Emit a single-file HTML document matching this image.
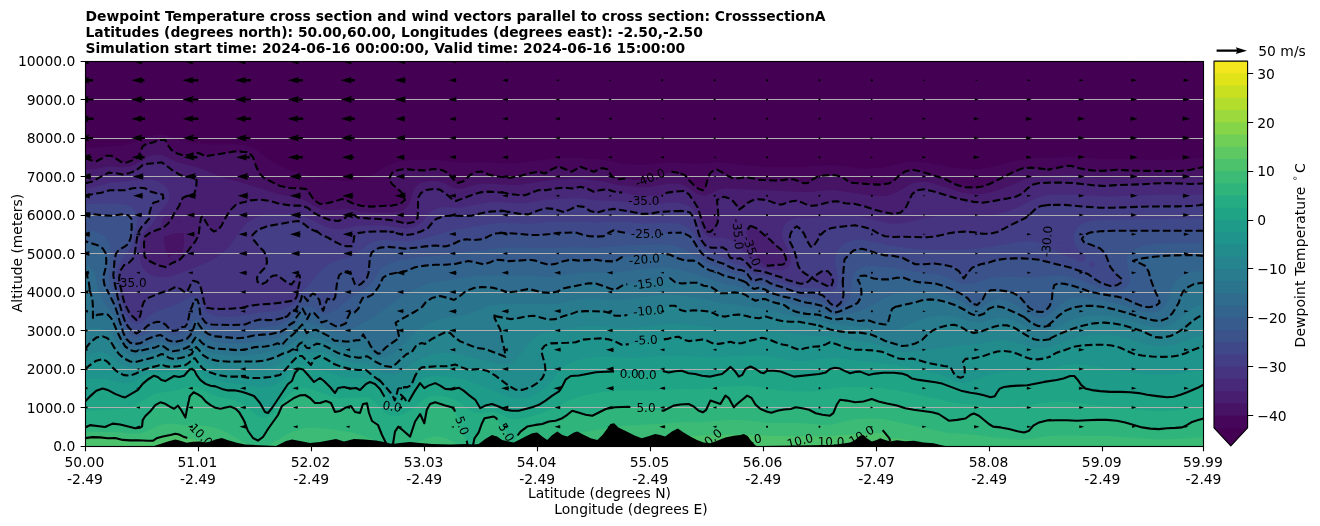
<!DOCTYPE html>
<html><head><meta charset="utf-8"><title>Dewpoint Temperature cross section</title>
<style>html,body{margin:0;padding:0;background:#fff;overflow:hidden}svg{display:block}text{font-family:"DejaVu Sans","Liberation Sans",sans-serif;font-size:13.889px;fill:#000}.b{font-weight:bold}.c{font-size:12px}</style></head><body>
<svg width="1320" height="526" viewBox="0 0 1320 526">
<rect width="1320" height="526" fill="#fff"/>
<defs><clipPath id="ax"><rect x="85.5" y="61.5" width="1118.0" height="385.0"/></clipPath></defs>
<g clip-path="url(#ax)">
<g shape-rendering="auto">
<rect x="85.0" y="61.0" width="1119.5" height="386.0" fill="#440154"/>
<path d="M155.2 135l5.8 -0.4l5 0.6l14 5.6l10 2.1l20.1 1.7l26 -0.4l11 1.6l5 1.7l4 2.3l13 9.9l6 3.9l11 5.2l10 3.2l25 6.5l9 1.6l10 0.6l13 -0.4l10 -1.8l9 -3.5l14 -8.7l6 -2.8l9 -2.4l12 -1l24.1 -0.1l23 2.9l21 -0.7l27 1.3l14 -0.9l35 -4.3l24 0l23 1.4l19 4l12 1.3l10.1 -0.2l27 -2.2l25 1.6l20 -2.2l23 3l26 2l35 0.3l21 -1.9l9 -0.2l8 0.6l18 2.5l11.1 0.5l14 -1l22 -5.2l11 -1l13 1.4l31 5.7l12 0.9l7 -0.3l8 -1.1l31 -8l15 -1.8l37 -1.5l31.1 2.2l57 0.6l20 -0.3l26 -1.4l0 288l-1118.5 0l0 -298.1l10 -0.2l29 -2.3l7 -2l13 -5.7z" fill="#46075a" fill-rule="evenodd"/>
<path d="M158 141l1 -1l6 0l1 1l0 1l2 3l0 1l3 3l0 1l1 1l1 0l3 2l1 0l1 1l2 0l1 1l2 0l1 1l1 0l1 -1l4 0l1 -1l2 0l1 -1l5.1 0l5 3l6 0l1 -1l5 0l1 -1l5 0l1 -1l5 0l1 -1l5 0l1 -1l2 0l1 1l10 0l5 5l0 1l1 1l0 2l1 1l0 2l1 1l0 2l2 3l0 2l7 7l1 0l3 2l1 0l1 1l1 0l3 2l1 0l3 2l3 0l1 1l4 0l1 1l12 0l1 1l5 0l1 1l0 1l4 4l1 3l4 4l1 0l3 2l4 0l1 -1l5 0l1 -1l3 0l1 -1l2 0l1 -1l2 0l1 -1l2 0l1 1l2 0l3 2l3 1l1 1l2 0l1 1l3 0l1 1l10 0l1 1l2 0l1 -1l18 0l1 -1l4 0l1 -1l2 0l1 -1l1 0l3 -3l-2 -6l-8 -8l-1 0l-3 -3l0 -2l-2 -2l1 -1l1 -3l3 -3l1 0l3 -2l4 0l1 -1l6 0l1 1l20.1 0l1 -1l6 0l1 1l4 0l1 1l1 0l3 2l1 0l1 1l0 1l7 7l1 0l1 1l6 -2l6 -6l3 -1l3 -2l7 0l1 1l2 0l3 2l3 0l1 1l5 0l1 1l9 0l1 1l2 0l1 -1l4 0l1 -1l5 0l1 -1l2 0l1 -1l2 0l1 -1l5 0l1 -1l6 0l1 1l4 0l1 -1l3 -1l2 -2l1 0l1 -1l2 0l1 -1l3 0l1 1l2 0l1 1l1 0l1 1l2 0l3 2l3 -1l2 -2l1 0l3 -2l2 0l3 2l2 0l1 1l2 0l3 2l1 0l3 -2l2 0l1 -1l3 -1l1 1l2 0l3 3l0 1l2 2l0 1l3 2l2 0l1 1l9 0l1 -1l1 1l3 0l1 1l11 0l1 -1l3.1 0l1 -1l3 0l1 -1l2 0l1 -1l3 0l1 -1l3 0l1 -1l2 0l1 -1l3 0l1 -1l5 0l1 1l4 0l1 1l2 0l1 1l1 0l1 1l0 1l2 2l0 1l5 5l1 0l4 4l1 0l1 1l3 0l2 -2l0 -1l1 -1l0 -2l1 -1l0 -3l2 -3l1 -3l4 -4l4 0l1 1l3 1l2 2l3 1l2 2l1 0l1 1l13 0l1 -1l1 0l1 1l6 0l1 1l4 0l1 1l27 0l1 -1l7 0l3 2l2 0l3 2l6 0l2 -2l3 -1l2 -2l1 0l1 -1l2 0l1 -1l4 0l1 -1l10 0l1 1l3 0l1 1l1 0l1 1l3 1l5 4l10 0l1 1l14.1 0l1 1l5 0l1 -1l6 0l3 -2l3 -1l6 -6l1 0l3 -3l1 0l1 -1l3 0l1 -1l6 0l1 1l3 0l1 1l2 0l1 1l2 0l1 1l3 0l1 1l2 0l1 1l3 0l1 1l2 0l1 1l2 0l1 1l1 0l1 1l1 0l3 2l1 0l1 1l1 0l1 1l1 0l1 1l2 0l1 1l3 0l1 1l8 0l1 1l3 0l1 -1l6 0l1 -1l2 0l1 -1l1 0l1 -1l2 0l1 -1l1 0l5 -3l1 0l1 -1l1 0l1 -1l1 0l1 -1l1 0l1 -1l1 0l1 -1l3 -1l3 -2l1 0l1 -1l2 0l3 -2l2 0l1 -1l16 0l1 1l8 0l1 1l1 0l1 -1l3 0l1 -1l4 0l1 -1l2 0l1 -1l10 0l1 1l2 0l1 1l3 0l1 1l4 0l1 1l7.1 0l1 1l13 0l1 -1l22 0l1 1l53 0l1 -1l6 0l1 -1l5 0l1 -1l3 0l1 -1l1 0l0 279l-1118.5 0l0 -288l1 1l2 0l1 1l2 0l1 1l6 0l1 -1l3 -1l2 -2l1 0l1 -1l6 0l2 2l3 1l2 2l1 0l1 1l4 0l1 1l1 -1l2 0l3 -2l2 0l1 -1l3 -1l0 -1l3 -5l0 -2l1 -1l0 -1l4 -4l1 0l1 -1l5 0l3 -2z" fill="#471365" fill-rule="evenodd"/>
<path d="M153.5 155l4.5 -0.4l5 0.8l16 7.3l20 5.3l24.1 9.7l22 6.1l32 9.9l24 5l6 2.7l9 5.7l5 2l5 0.9l6 0.3l17 -1.3l13 2.5l12 1l20 0l5 -0.8l4 -1.5l3.2 -2.2l2.8 -3.7l1.4 -3.3l2.3 -9l3.3 -5.5l3 -2.4l3.1 -1.5l4 -1.2l5 -0.7l5 0.2l4 0.8l13 6l6 1.2l5 -0.6l12 -3.7l6 -1l34 1.6l41 -6l24 -0.4l21 2.4l16 3.8l19 2.3l12.1 -0.4l21 -3.4l7 0.1l8 2.3l12 8.1l3 1.3l3 0.5l5 -1l11 -5.4l7 -1.1l15 1.3l19 0.2l47 2.4l20 -2l7 -0.1l33 5.1l13.1 1l6 -0.5l6 -1.5l6 -2.8l12 -7.1l4 -1.5l5 -0.8l6 0.1l8 1.5l28 8.8l9 1.5l7 0.4l8 -0.8l10 -2.4l13 -4.5l18 -7.9l5 -1.4l6 -1l32 -1.2l25.1 2.7l9 0.4l15 -0.6l67 -0.6l18 -0.9l0 269.9l-1118.5 0l0 -276l9 -0.8l15 -3l13 1.2l6 -0.4l7 -2.6l13 -7.7zM169 219l-1 1l1 0l1 -1zM177 220l3 3l0 1l0 -2l-2 -2zM182 227l0 2l1 1l0 2l-1 0.8l-8 0.8l-9 2.8l-1 -0.4l0 -5l0 4l-1 1l1 1l0 7l1 1l0 4l1 1l0 2l2 3l0 2l2 2l2 0l3 2l0 -1l-1 0l-1 -1l-2 0l-2 -2l5 -2.5l3 -0.2l3 1.7l-2 2l0 1l2 -2l0 -1l2 -2l0 -1l1 -1l0 -5l1 -1l0 -3l1 -1l-1 -1l0 -7l-1 -1l0 -4l-1 -1z" fill="#481f70" fill-rule="evenodd"/>
<path d="M160 163l1 -1l2 2l3 1l5 5l3 1l2 2l3 1l3 2l2 0l1 1l6 0l1 -1l5.1 5l0 1l-1.1 1l0 6l-1 1l0 2l-2 2l-1 0l-1 1l-2 0l-3 2l-2 0l-2 2l0 1l-2 3l-1 3l-2 2l-1 3l-2 2l0 1l-1 1l-2 -1l-2 0.2l-3 1.5l-2 1.9l-1.7 2.4l-1.1 3l0 3l0.8 2l-1 1l-2 0l-1 1l-2 0l-1 1l-2 0l-1 1l-3 1l-3 3l-1 0l0 3l-1 1l0 14l1 1l0 2l2 2l0 1l3 1l2 2l1 0l1 1l2 0l3 2l3 0l1 1l3 0l1 -1l3 -1l2 -2l1 0l1 -1l2 0l1 -1l3 -1l8 -8l0 -1l2 -2l0 -1l5 -5l0 -1l1 -1l0 -1l3.1 -5l0 -7l1 -1l0 -5l1 -1l0 -3l1 -1l1 0l1 1l0 1l1 1l1 3l1 1l0 1l2 2l0 1l1 1l1 0l2 2l3 0l1 -1l1 0l3 -3l0 -1l1 -1l0 -1l2 -2l0 -2l2 -2l1 -3l3 -3l0 -1l7 -7l2 0l1 -1l2 0l1 -1l3 0l1 -1l3 0l1 -1l15 0l1 1l4 0l1 1l2 0l1 1l3 0l1 1l4 0l1 1l7 0l1 1l11 0l1 1l2 0l1 1l1 0l7 6l1 0l5 3l2 0l3 2l2 0l1 1l4 0l1 1l5 0l1 -1l2 0l1 -1l1 0l5 -5l4 0l3 3l1 0l1 1l11 0l1 1l14 0l1 1l7 0l1 1l4 0l1 1l3 0l1 1l3 0l1 1l1 -1l4 0l1 -1l2 0l4 -4l0 -20l1 -1l0 -1l5.1 -5l1 0l1 -1l4 0l1 -1l7 0l1 1l2 0l3 3l1 0l4 4l1 0l3 3l1 0l1 1l2 0l1 -1l2 0l1 -1l2 0l1 -1l1 0l1 -1l2 0l3 -2l2 0l1 -1l2 0l1 -1l3 0l1 -1l19 0l1 1l5 0l1 1l6 0l1 1l12 0l1 -1l2 0l1 -1l2 0l3 -2l2 0l1 -1l12 0l1 -1l4 0l1 -1l21 0l1 -1l4 0l1 1l3 0l1 1l1 0l5 3l2 0l1 -1l2 0l1 -1l6 0l1 -1l1 0l1 1l2 0l1 1l2 0l1 1l6 0l1 1l5 0l1 1l3 0l1 1l6 0l1 1l22.1 0l1 -1l2 0l1 -1l1 0l1 -1l2 0l1 -1l6 0l1 -1l8 0l2 2l1 0l4 4l0 1l2 2l0 1l4 5l0 1l1 1l0 2l1 1l0 2l1 1l0 2l1 1l0 2l1 1l0 2l2 3l0 2l3 5l3 0l1 -1l1 0l4 -4l0 -1l2 -3l0 -17l-1 -1l0 -4l2 -2l1 0l3 -2l3 0l1 1l3 1l7 7l0 1l2 2l0 1l2 -2l1 0l2 -2l1 0l4 -4l1 0l3 -2l3 0l1 -1l4 0l1 1l5 0l1 1l2 0l3 2l2 0l1 1l4 0l1 1l1 0l3 -2l2 0l1 -1l2 0l1 -1l7 0l1 1l2 0l1 1l1 0l1 1l2 0l1 1l3 0l1 1l4 0l1 -1l4 0l1 -1l2 0l1 -1l3 0l1 -1l5 0l1 -1l4 0l1 1l3 0l1 1l4 0l1 1l9 0l1 1l3 0l1 1l2 0l1 1l2 0l1.1 1l2 0l1 1l2 0l1 1l3 0l1 1l2 0l1 1l3 0l1 1l5 0l1 1l4 0l1 -1l4 0l1 -1l1 0l4 -4l0 -1l1 -1l0 -1l3 -5l0 -2l1 -1l0 -1l6 -6l5 0l1 -1l1 0l1 1l4 0l1 1l3 0l1 1l2 0l1 1l3 0l1 1l2 0l1 1l2 0l1 1l3 0l1 1l2 0l1 1l2 0l1 1l4 0l1 1l4 0l1 1l4 0l1 1l7 0l1 1l3 0l1 -1l7 0l1 -1l4 0l1 -1l4 0l1 -1l5 0l1 -1l4 0l1 -1l3 0l1 -1l1 0l1 -1l3 -1l6 -6l1 0l3 -3l1 0l1 -1l3 0l1 -1l38 0l1 1l9 0l1 1l8.1 0l1 1l15 0l1 -1l23 0l1 -1l17 0l1 -1l26 0l1 1l21 0l1 -1l0 263l-1118.5 0l0 -263l3 0l1 -1l3 0l1 -1l1 0l2 -2l2 0l2 -2l1 0l3 -2l3 -1l1 -1l9 0l1 1l4 0l1 1l1 -1l3 0l1 -1l3 0l3 -2l2 0l4 -4l1 0l2 -2l2 0l1 -1l6 0l1 -1zM750.3 226l-2 2l0 1l-2 3l0 2l1 1l0 3l1 1l0 2l1 1l0 2l2 3l0 2l2 2l0 1l1 1l0 1l2 2l0 1l8 8l2 0l1 1l3 0l1 -1l12 0l2 -2l1 0l1 -1l-1 -1l0 -4l-1 -1l-1 -3l-2 -2l0 -1l-3 -3l-1 0l-8 -8l-1 0l-5 -5l-1 0l-4 -4l-1 0l-3 -3l-2 0l-1 -1z" fill="#482979" fill-rule="evenodd"/>
<path d="M142.2 179l8.8 0.4l5 1.3l4 1.7l6.2 4.6l2.1 3l1.1 3l0.1 5l-1.9 5l-8.6 10l-6.8 11l-9.2 9.7l-1.7 4.3l-1 6l-0.6 8l0.3 7l1 5l1.9 4l3.1 3.7l4 2.7l5 1.9l6 0.7l8 -0.6l10 -2.7l24.7 -9.7l9.4 -4.5l7 -4.5l7 -6.3l5 -5.9l10.1 -14.8l6 -6l4.9 -3.1l5 -2.2l6 -1.6l7 -0.9l20 -0.3l9 1l5 1.7l20 9.8l6 2l5 0.9l6 0l14 -3.2l10 -0.8l18 0.1l22 3.1l7 -1.1l5.2 -2.4l3.8 -3l9.1 -10.2l3 -2.1l4 -1.7l6 -0.9l11 0.6l6 -0.3l28 -5.1l10 -0.3l17 1.5l7 0l23 -3.8l31 -1.8l18 2.4l21 0.6l27 3.4l11.1 -0.2l17 -1.6l7 0.1l8 2.3l4 2.3l3 2.7l3.6 6.1l5.7 15l1.7 2.6l2 1.9l5 1.9l12 0.3l6 1.6l7 4.8l17.9 17.9l5.1 3.9l4 1.8l5 1.4l12 1.1l4 -0.4l3.6 -1.8l2.3 -3l0.9 -3l-0.3 -4l-1.1 -4l-6.8 -15l-0.7 -5l0.6 -5l1.9 -4l2.6 -3.1l4 -2.6l5 -1.6l5 -0.3l14 0.6l21 -2.6l15 -0.1l12 1.7l23.1 6.1l6 0.7l6 0l9 -1.3l19 -4.8l10 -1.5l14 -0.5l29 0.9l14 -1.3l11 -2.9l11 -3.9l22 -11.1l6 -1.7l6 -0.9l18 -0.5l40.1 2.3l55 -1.9l41 -0.2l0 251.5l-1118.5 0l0 -257.5l8 -1.1l17 -4.7l15 -1.2z" fill="#463480" fill-rule="evenodd"/>
<path d="M132 189l1 -1l12 0l2 2l3 1l1 1l2 0l1 1l3 0l1 1l4 0l1 1l0 3l-2 2l-1 0l-3 2l-3 0l-2 2l0 1l-1 1l0 3l-1 1l0 3l-1 1l0 5l-8 8l0 1l-3 5l0 2l-1 1l0 5l-1 1l0 6l-1 1l0 4l-1 1l0 2l-1 1l0 1l-6 6l-1 0l-3 2l0 1l-2 2l0 1l-1 1l0 4l-1 1l0 6l1 1l0 3l1 1l0 3l1 1l0 4l1 1l0 3l1 1l0 2l2 3l0 2l2 3l1 3l7 7l2 0l1 -1l0 -1l1 -1l0 -2l1 -1l0 -4l1 -1l0 -3l1 -1l1 -3l4 -4l1 0l3 -2l2 0l3 -2l2 0l3 -2l2 0l1 -1l4 0l6 -4l1 0l3 2l2 0l4 4l4 -4l0 -1l1 -1l0 -1l3 -5l2 0l1 1l1.1 0l3 3l0 1l1 1l0 3l1 1l0 3l1 1l0 4l1 1l0 3l1 1l1 3l1 1l4 0l1 1l22 0l1 -1l10 0l2 -2l4 0l1 -1l8 0l1 -1l13 0l1 -1l6 0l1 -1l5 0l1 -1l4 0l1 -1l2 0l0 -1l2 -2l0 -4l1 -1l0 -4l1 -1l0 -3l1 -1l0 -8l-2 0l-2 2l-1 3l-2 2l0 1l-1 1l-2 0l-1 -1l-1 0l-5 -4l-1 0l-4 -4l-3 0l-1 1l-2 0l-1 1l-1 0l-3 3l0 1l-1 1l-1 0l-3 2l-1 -1l-2 0l-2 -2l0 -4l2 -2l0 -1l6 -6l0 -1l2 -3l0 -6l-1 -1l0 -2l-2 -3l0 -1l-8 -8l0 -1l-2 -2l0 -1l-1 -1l0 -3l6 -6l2 0l1 -1l2 0l1 -1l2 0l1 -1l3 0l1 -1l5 0l1 -1l4 0l1 -1l4 0l1 -1l6 0l1 -1l3 0l3 2l3 1l7 6l2 0l3 2l2 0l3 3l1 0l1 1l2 0l1 1l3 1l2 2l1 0l1 1l3 1l5 3l2 0l1 1l8 0l0 -1l1 -1l0 -2l1 -1l0 -4l4 -4l4 0l1 -1l13 0l1 -1l10 0l1 1l5 0l1 1l3 0l1 1l4 0l1 1l7 0l1 -1l4 0l1 -1l2 0l3.1 -2l2 0l1 -1l3 -1l4 -4l0 -1l5 -5l1 0l1 -1l2 0l1 -1l2 0l1 -1l28 0l1 -1l3 0l1 -1l3 0l1 -1l4 0l1 -1l6 0l1 -1l13 0l1 1l4 0l1 1l5 0l1 1l13 0l5 -3l2 0l1 -1l2 0l1 -1l2 0l1 -1l3 0l1 1l6 0l1 1l2 0l1 1l3 0l1 1l1 0l1 -1l2 0l1 -1l2 0l1 -1l1 0l5 -3l3 0l1 1l3 0l1 1l1 0l2 2l1 0l3 2l4 0l1 1l1 -1l3 0l1 -1l2 0l1 -1l5 0l1 -1l6 0l1 1l5 0l1 1l5 0l1 1l5 0l1 1l3 0l1 1l11.1 0l1 -1l4 0l1 -1l11 0l1 -1l16 0l1 1l3 0l3 3l0 1l2 2l0 1l1 1l0 2l1 1l0 3l1 1l0 2l1 1l0 2l1 1l0 2l1 1l0 2l2 3l0 1l4 4l2 0l3 2l10 0l1 -1l1 1l1 0l3 3l0 1l1 1l0 1l2 3l0 1l2 0l1 1l6 0l1 -1l2 2l1 0l3 2l1 1l0 1l5 5l0 1l3 0l1 1l6 0l1 1l3 0l1 1l2 0l1 1l2 0l3 2l3 0l1 1l2 0l1 1l1 0l1 1l2 0l3 2l3 0l1 1l2 0l1 1l3 0l1 1l2 0l1 -1l4 0l5 -5l1 1l1 0l2 2l1 0l1 1l2 0l6 4l6 0l0 -2l1 -1l0 -4l-1 -1l0 -3l-4 -4l-6 0l-2 2l-3 1l-2 2l-1 0l-1 1l-2 0l-3 -2l-1 0l-7 -6l0 -1l-2 -3l0 -2l-1 -1l0 -4l-1 -1l0 -2l-1 -1l0 -2l-1 -1l0 -2l-1 -1l-1 -3l-3 -5l0 -1l1 -1l0 -3l1 -1l0 -2l2 -2l0 -1l1 -1l1 0l1 -1l2 0l4 4l0 1l3 3l0 2l1 1l0 1l2 3l1 3l2 2l2 0l4 -5l0 -1l1 -1l0 -1l2 -2l0 -1l5 -5l1 0l5 -3l4 0l1 -1l7 0l1 -1l9 0l1 -1l1 0l1 1l5 0l1 1l2 0l1 1l3.1 0l1 1l2 0l2 2l1 0l1 1l1 0l1 1l3 1l1 1l2 0l1 1l4 0l1 1l45 0l1 -1l4 0l1 -1l4 0l1 -1l3 0l1 -1l5 0l1 -1l19 0l1 1l6 0l1 1l9 0l1 -1l3 0l1 -1l2 0l5 -3l1 0l1 -1l3 -1l2 -2l2 0l3 -2l1 0l1 -1l3 -1l5 -3l1 0l4 -4l1 0l6 -6l1 0l3 -2l4 0l1 -1l24 0l1 1l12 0l1 1l12.1 0l1 1l22 0l1 -1l34 0l1 -1l41 0l1 -1l6 0l0 241l-1118.5 0l0 -251l5 0l1 -1l5 0l1 -1l5 0l1 -1l2 0l1 -1l3 0l1 -1l18 0l1 -1zM1058.4 241.9l-1 1.1l1 1l1.2 -1zM1068.4 249.1l-0.8 0.9l0.8 0.8l0.9 -0.8zM1080.4 257.5l-0.5 0.5l0.5 0.5l0.5 -0.5z" fill="#433e85" fill-rule="evenodd"/>
<path d="M91.7 204l22.3 -0.6l10 1l4 1.2l4 2.2l3 3.2l1.6 3l0.9 4l-0.2 4l-4.8 21l-2.5 5.5l-8 10.9l-2.7 4.6l-1.7 5l-1.1 7l0.4 6l3.9 17l4.9 14l2.3 4.2l3 3.7l3 2.1l3 0.8l2 -0.3l3 -1.4l8 -6.7l5 -3.1l19 -7.1l16.7 -8.2l3.3 -0.9l3.1 0.6l2.6 2.3l3.6 9l2.8 3.8l4 2.5l6 1.8l10 0.7l12 -0.5l18 -3.2l16 -1.6l8 -1.6l11 -4.3l5 -3.6l2.2 -3l2.8 -6.8l7.7 -7.2l12.3 -14.4l5.3 -4.6l8.7 -4.7l14 -4l5 -2.1l4 -2.6l9 -7.6l5 -2.7l6 -1.8l6 -0.7l21 1.4l9 -0.6l11.9 -2.6l28.2 -8.2l42 -6.7l9 -0.3l23 0.9l22 -1.7l25 -0.6l21 1.4l20 -1.6l26 2.3l26.1 -0.7l10 0.8l6 1.9l6 4.1l4 4.7l6.5 10.7l5.5 5.2l4 2.1l11 4.1l9 5.4l13 4.6l4 2.4l6 4.8l3 1.1l10 1.8l21 7.8l10 3l5 0.7l13 -0.3l11 2.9l3 0.4l3 -0.5l2.5 -1.5l2 -3l0.8 -3l0 -7l-2.7 -15l0.4 -4l1.3 -4l2.7 -4.4l4 -3.8l5 -2.9l6 -1.8l5 -0.5l5 0.3l25.1 5.8l28 3.6l13 0.7l29 -0.1l12 -0.7l18 -2l30 -5.3l8 -0.6l6 0.3l5 0.9l4 1.4l14.5 8.1l8.5 3.8l7 1.6l6 3.9l3 0.6l3.1 -0.9l1.1 -1l0.2 -2l-1.5 -3l-5.1 -4l-2.3 -3l-3 -7l-0.5 -5l1 -4l2.6 -4l3.6 -3l4.8 -2.4l9.1 -2.1l12 -0.8l97 -1.4l0 227.7l-1118.5 0l0 -242zM1090.4 261.6l-1.4 1.4l0.2 2l2.2 2.2l2.1 -0.1l1.6 -2.1l-0.6 -2l-2 -1.5z" fill="#3f4889" fill-rule="evenodd"/>
<path d="M85 214l0 -1l2 0l1 1l7 0l1 1l11 0l1 1l6 0l1 -1l5 0l1 -1l1 1l6 0l3 3l0 2l1 1l0 8l-1 1l0 8l-1 1l0 1l-1 1l-1 3l-1 1l-1 0l-2 2l-1 0l-3 2l-1 0l-4 6l0 5l-1 1l0 11l-1 1l0 4l1 1l0 4l1 1l0 4l1 1l0 3l1 1l0 4l1 1l0 3l1 1l0 2l1 1l0 3l1 1l0 3l1 1l0 2l1 1l0 2l1 1l0 2l1 1l0 2l3 3l0 1l5 5l1 0l1 1l3 0l2 -2l1 0l3 -2l1 0l5 -5l1 0l1 -1l3 0l1 -1l5 0l3 2l1 0l4 5l1 0l3 2l3 0l1 -1l1 0l3 -3l4 0l2 -2l0 -1l1 -1l0 -4l1 -1l0 -4l1 -1l0 -2l2 -3l0 -2l1 -1l0 -3l2 -2l2.1 0l1 1l0 2l1 1l0 4l1 1l0 7l3 3l0 1l2 2l0 1l3 0l1 1l3 0l1 1l31 0l1 -1l2 0l1 -1l1 0l1 -1l2 0l1 -1l3 0l1 -1l20 0l1 -1l2 0l1 -1l2 0l1 -1l3 0l2 -2l0 -1l3 -3l1 0l1 -1l2 0l0 -1l1 -1l0 -1l1 -1l0 -1l1 -1l1 -3l1 -1l0 -2l2 -2l3 3l0 1l1 1l1 0l1 -3l2 -2l0 -1l1 -1l2 0l4 4l0 1l2 3l0 3l1 1l0 1l2 3l0 1l1 -1l0 -2l1 -1l0 -2l1 -1l0 -2l1 -1l0 -1l1 -1l1 0l3 2l1 0l1 -1l0 -1l1 -1l0 -2l1 -1l0 -7l1 -1l0 -5l1 -1l0 -3l1 -1l0 -1l4 -4l5 0l1 1l1 0l2 3l0 2l2 3l0 2l2 2l1 0l1 1l1 -1l1 0l3 -3l1 0l3 -3l0 -2l1 -1l0 -2l1 -1l0 -10l1 -1l0 -5l1 -1l0 -2l5 -5l2 0l1 -1l2 0l1 -1l13 0l1 1l6 0l1 1l5 0l1 -1l8 0l1 -1l6.1 0l1 -1l24 0l1 -1l2 0l1 -1l1 0l5 -3l2 0l1 -1l2 0l1 -1l2 0l1 1l12 0l1 -1l3 0l1 -1l1 0l1 -1l1 0l5 -3l2 0l1 -1l16 0l1 1l12 0l1 1l18 0l1 -1l8 0l1 -1l17 0l1 -1l3 0l1 1l2 0l1 1l2 0l1 1l3 0l1 1l8 0l1 1l3 0l1 -1l5 0l10 -6l1 1l3 0l1 1l4 0l1 1l5 0l1 1l28.1 0l1 -1l24 0l3 2l3 1l4 4l0 1l2 2l1 3l2 2l0 1l2 2l0 1l4 4l1 0l2 2l3 1l1 1l2 0l1 1l2 0l1 1l2 0l1 1l2 0l1 1l1 0l1 1l3 1l5 3l2 0l1 1l6 0l1 1l2 0l2 2l0 1l2 2l0 1l3 3l6 0l1 -1l3 0l1 1l2 0l1 1l1 0l2 2l1 0l1 1l2 0l1 1l2 0l1 1l2 0l1 1l2 0l1 1l2 0l1 1l2 0l1 1l2 0l1 1l2 0l1 1l3 0l1 1l17 0l1 1l2 0l1 1l2 0l11 11l5 0l3 -3l0 -1l2 -3l0 -3l1 -1l0 -1l-1 -1l0 -23l1 -1l0 -8l1 -1l0 -1l9 -9l4 0l1 -1l5 0l1 1l3.1 0l1 1l2 0l1 1l2 0l3 2l3 0l1 1l5 0l1 1l9 0l1 1l3 0l1 1l2 0l1 1l1 0l1 1l1 0l1 1l3 1l3 2l27 0l1 1l4 0l1 1l3 0l5 3l1 0l5 5l0 1l2 2l0 1l1 1l0 -1l2 -2l0 -1l4 -4l0 -1l3 -3l2 0l1 -1l1 0l1 -1l2 0l1 -1l3 0l1 -1l4 0l1 -1l2 0l1 -1l2 0l1 -1l3 0l1 -1l13 0l1 -1l9 0l1 1l12 0l1 1l4 0l1 1l3 0l1 1l3 0l1 1l3 0l1 1l3 0l1 1l3 0l1 1l3 0l1 1l3 0l1 1l2 0l1 1l2 0l1 1l2 0l3 2l2 0l1 1l2 0l1 1l1 0l2 2l1 0l3.1 3l1 0l2 2l3 1l2 2l2 0l1 1l3 0l1 1l6 0l1 -1l2 0l2 -2l1 0l1 -1l0 -2l-1 -1l0 -1l-2 -2l-1 0l-1 -1l-6 -7l-1 -3l-1 -1l0 -2l-2 -3l0 -2l-1 -1l0 -2l-6 -6l-1 0l-1 -1l-2 0l-3 -2l-2.1 0l-1 -1l-2 0l-1 -1l-2 0l-2 -2l0 -1l-1 -1l1 -1l0 -1l3 -3l1 0l1 -1l2 0l1 -1l8.1 0l1 -1l103 0l0 215l-1118.5 0z" fill="#3b528b" fill-rule="evenodd"/>
<path d="M85 231l0 -1l5 0.4l9 2.7l6 4.1l3.6 4.8l1.4 4l0.6 5l-1.7 25l0.5 5l1.2 5l13.4 39.5l3 5.4l3 3.4l3 1.9l4 0.8l4 -0.8l11 -4.9l5 -1.1l5 0.5l10 4.2l3 0.3l4 -0.7l4 -1.7l4 -2.8l2.5 -3l3.4 -6l3.1 -1.7l3.1 0.8l4 4.3l3 2.3l6 2.5l9 1.5l18 0.5l6 -0.6l13 -2.6l15 -1.8l7 -1.7l9 -4.8l11.1 -11.7l2.9 -1.7l3 -0.1l6 1.2l3 1.3l7 4.9l2 0.5l3 -0.4l5 -1.7l5 -2.8l15 -12.8l15 -8.9l4.3 -4.5l8.7 -13.4l5 -4.2l5 -2.5l8 -2.3l22 -3.6l27.1 -2.2l18 -3.1l17 -1.3l18 -2.6l17 -0.4l31 0.7l24 -0.9l25 0.6l32 -2.6l32.1 -1l11 0.9l6 1.6l7 2.9l25 14.8l19 7.5l13 4.1l10 6.8l11 1.8l14 5.5l18 5.3l22 4.1l6 2.6l9 5.8l4 0.7l3 -0.6l3.4 -2l4.2 -4l2.6 -4l1.7 -6l1 -13l2.3 -6l1.8 -2.3l3 -2.3l6 -2l8.1 -0.3l22 1.9l22 4.2l20 2.4l9 2.4l14 6.4l5 1.2l7 -0.8l16 -5.2l11 -1.9l11 -0.3l23 1.3l21 -2.4l7 0l7 1.1l9 2.5l25.1 9.9l8 1.5l6 0.2l4 -0.6l4 -1.6l2.9 -2.3l1.9 -3l0.9 -3l0 -3l-3.2 -13l0 -5l1 -3l2 -3l5.5 -4.2l9 -3.1l12 -1.6l21 -0.9l26 0l0 202.8l-1118.5 0z" fill="#375b8d" fill-rule="evenodd"/>
<path d="M85 242l0 -1l1 0l3 2l2 0l1 1l3 0l1 1l3 1l2 2l1 0l1 1l0 1l2 2l0 1l1 1l0 14l-1 1l0 3l-1 1l0 12l2 3l0 1l2 2l0 2l3 5l0 1l2 2l0 2l3 5l0 3l2 3l0 3l1 1l0 2l1 1l0 2l1 1l0 2l1 1l0 3l1 1l0 2l2 3l1 3l4 4l3 0l1 1l4 0l1 -1l2 0l1 -1l1 0l1 -1l1 0l1 -1l3 -1l1 -1l1 0l1 -1l2 0l1 -1l2 0l1 -1l3 0l2 2l1 0l3 3l1 0l1 1l3 0l1 1l4 0l1 -1l3 0l1 -1l2 0l1 -1l2 0l4 -4l0 -1l2 -3l0 -2l1 -1l0 -2l1 -1l0 -2l1 -1l1.1 0l1 1l0 1l2 2l0 1l6 6l1 0l3 2l2 0l1 1l3 0l1 1l12 0l1 1l15 0l1 -1l3 0l1 -1l4 0l1 -1l9 0l1 -1l8 0l1 -1l4 0l1 -1l2 0l1 -1l1 0l1 -1l3 -1l0 -1l2 -2l3 -3l1 0l2 -2l1 -3l2 -2l0 -1l3 -3l0 -1l1 -1l1 0l1 1l1 3l2 3l0 2l4 -6l3 0l4 4l0 1l2 2l1 3l1 -1l3 0l1 -1l1 0l2 2l1 0l1 1l3 1l1 1l6 0l5 -3l0 -1l1 -1l0 -2l3 -5l1 -1l4 0l0 -1l4 -4l0 -3l1 -1l1 -3l1 -1l0 -1l1 -1l4 0l2 -2l2 0l6 -6l0 -1l2 -2l0 -1l2 -3l0 -1l2 -3l0 -1l1 -1l1 0l2 -2l1 0l1 -1l3 0l1 -1l5 0l1 -1l5 0l1 -1l2 0l1 -1l2 0l5 -3l4 0l1 -1l6.1 0l1 -1l21 0l1 -1l8 0l1 -1l2 0l1 -1l5 0l1 -1l3 0l1 1l4 0l1 1l3 0l1 1l6 0l1 -1l2 0l1 -1l2 0l3 -2l9 0l1 1l15 0l1 -1l13 0l1 1l2 0l1 1l2 0l1 1l2 0l1 1l3 0l1 1l3 0l1 -1l5 0l3 -2l2 0l1 -1l3 0l1 -1l11 0l1 1l1 0l1 -1l19 0l1 1l15 0l1 -1l3 -1l2 -2l9 0l1 -1l12 0l1.1 -1l12 0l1 -1l10 0l1 1l2 0l5 3l2 0l1 1l2 0l1 1l2 0l1 1l10 0l1 1l1 0l3 3l1 0l3 3l1 0l5 3l3 0l1 1l3 0l3 2l3 1l1 1l3 0l1 1l2 0l1 1l3 0l1 1l3 0l1 1l2 0l3 2l2 0l2 3l5 4l2 0l1 -1l5 0l1 1l2 0l1 1l3 1l2 2l2 0l1 1l3 0l1 1l2 0l1 1l2 0l1 1l4 0l1 1l3 0l1 1l3 0l1 1l2 0l1 1l3 0l1 1l2 0l1 1l5 0l1 1l4 0l1 1l3 0l1 1l2 0l1 1l1 0l2 2l1 0l3 3l2 0l1 1l1 0l1 -1l3 0l3 -2l2 0l1 -1l1 0l1 -1l3 -1l1 -1l2 0l1 -1l1 0l2 -2l1 0l0 -1l2 -2l0 -2l1 -1l0 -3l1 -1l-1 -1l0 -6l-1 -1l0 -2l-2 -3l1 -1l0 -2l1 -1l7 0l1.1 1l2 0l3 2l20 0l1 -1l11 0l1 1l2 0l1 1l2 0l1 1l3 0l1 1l7 0l1 1l10 0l1 1l3 0l1 1l2 0l1 1l2 0l1 1l2 0l3 2l2 0l3 2l3 1l2 2l1 0l1 1l3 1l6 6l0 1l1 1l3 0l1 1l2 0l1 -1l3 -3l0 -1l2 -2l0 -2l4 -4l1 0l2 -2l10 0l1 1l5 0l1 1l3 0l1 1l1 0l1 1l1 0l3 2l1 0l1 1l0 1l6 6l0 1l4 4l1 0l5 3l7 0l2 -2l1 0l4 -4l0 -2l1 -1l0 -2l1 -1l0 -7l1 -1l0 -3l1 -1l0 -2l2 -2l2 0l1 -1l2 0l1 1l5 0l1 1l3 0l1 1l2 0l1 1l3 0l1 1l2 0l3 2l2 0l3 2l3.1 0l1 1l5 0l1 1l4 0l1 1l6 0l1 1l4 0l1 1l4 0l1 1l2 0l1 1l2 0l1 1l1 0l5 3l2 0l3 2l2 0l1 1l2 0l1 1l9 0l1 -1l2 0l3 -3l1 0l0 -1l-1 -1l0 -3l-1 -1l-1 -3l-3 -5l0 -2l-1 -1l0 -2l-2 -3l0 -2l-1 -1l0 -3l-1 -1l0 -3l-2 -2l-1 -3l-3 -1l-5 -3l-2 0l-1 -1l1 -1l2 0l1 -1l3 0l1 -1l5 0l1 -1l8 0l1 -1l14 0l1 -1l25 0l1 1l4 0l0 190l-1118.5 0z" fill="#32648e" fill-rule="evenodd"/>
<path d="M85 265l3 0.7l2 1.2l3.4 4.1l1.8 5l3 13l3.3 9l3.3 6l6.2 7.4l3 4.7l7.7 18.9l2.6 5l2.7 3.5l2 1.6l4 1.6l3 0.4l5 -0.6l13 -4.2l5 -0.8l3 0.3l10 3.7l3 0.3l4 -0.5l8 -3l7 -6.3l3.1 -1.1l3 0.4l8 4.2l6 2.2l6 1l12 0.9l11 -0.1l25 -3.6l10 -2.1l5 -2l6 -3.9l10 -9.3l3 -1.2l13 3.2l20 7l5 0.6l5 -0.6l6.9 -2.6l18.9 -10l6.2 -4.2l23 -17.4l9.1 -5.4l9.9 -4.8l8.1 -2.9l8 -2l32 -5.4l9 -1.1l21 -0.6l30 0.5l23 1.2l32 -4.2l10 -0.4l21 0.6l35.1 -4.3l10 -0.7l8 0l8 1.2l22 5l27 9.3l18 4.2l12 5.4l12 2l20 6.3l13 4.7l21 4.3l11 4.3l4 1l6 -0.5l14 -2.6l6 -1.6l8.6 -3.9l15.5 -9l10 -3.8l12 -2l18 -0.6l12 0.9l11 2.7l12 5.1l12 7.3l4 1.2l5 -0.7l9 -5.8l5 -2.1l5 -0.6l6 0.8l5 1.6l5 2.4l17 11.1l4 1.5l4 0.5l5 -0.8l4 -2.1l11 -10.1l5 -3.5l5 -2l6 -0.9l9 0.4l21.1 2.8l13 2.8l24 7.6l7 0.9l6 -0.6l5 -2.3l4.3 -4.7l1.9 -4l4.6 -14l3 -5l3.2 -3.4l5 -3.5l6 -2.5l7 -1.4l7 -0.5l0 175.3l-1118.5 0z" fill="#2f6c8e" fill-rule="evenodd"/>
<path d="M85 273l0 -1l2 3l0 2l1 1l0 3l1 1l0 5l1 1l0 5l1 1l0 2l1 1l0 4l1 1l0 16l1 -1l1 0l2 -2l3 0l1 -1l5 0l1 1l1 0l3 3l0 1l2 3l0 1l2 3l0 1l1 1l0 2l2 3l0 1l2 3l0 1l1 1l1 3l2 2l0 1l5 5l2 0l1 1l9 0l1 -1l3 0l1 -1l4 0l1 -1l4 0l5 -3l1 1l2 0l5 4l2 0l1 1l6 0l1 -1l3 0l1 -1l3 0l1 -1l3 -1l3 -3l1 -3l3 -3l1.1 0l7 7l1 0l2 2l2 0l1 1l5 0l1 1l13 0l1 1l15 0l1 -1l3 0l1 -1l3 0l1 -1l11 0l1 -1l5 0l1 -1l2 0l1 -1l4 0l1 1l2 0l10 -10l1 0l4 -4l0 -1l5 -5l1 1l0 1l2 3l0 1l2 2l1 0l2 -2l2 0l1 -1l4 0l1 1l1 0l2 2l2 0l3 2l1 0l2 2l1 0l4 4l21 0l1 -1l4 0l1 -1l0 -1l2 -2l4 4l0 1l2 2l1 3l3 3l0 1l3 3l1 0l1 1l1 -1l2 0l8 -8l1 0l2 -2l1 0l3 -3l1 0l2 -2l0 -4l-1 -1l0 -3l-1 -1l0 -4l-1 -1l0 -1l2 -2l1 0l1 -1l1 0l1 -1l3 -1l2 -2l3 -1l2 -2l3 -1l2 -2l3 -1l5.1 -5l0 -1l2 -2l3 -1l2 -2l2 0l1 -1l3 0l1 -1l2 0l1 1l3 0l1 1l3 0l1 1l2 0l1 1l1 0l1 -1l3 -1l4 -4l1 0l3 -3l1 0l1 -1l2 0l1 -1l2 0l1 -1l4 0l1 -1l11 0l1 1l4 0l1 1l3 0l1 1l2 0l1 1l2 0l1 1l9 0l1 -1l4 0l1 -1l5 0l1 -1l3 0l1 1l3 0l1 1l3 0l1 1l5 0l1 1l7 0l1 -1l4 0l1 -1l1 0l3 -2l1 0l1 -1l3 0l1 -1l4 0l1 -1l4 0l1 -1l4 0l1 -1l4 0l1 -1l7 0l1 1l2 0l1 1l2 0l1 1l2 0l3 2l2 0l1 1l3 0l1 1l1 0l3 -2l1 0l2 -2l1 0l1 -1l3 0l1 -1l7 0l1 -1l6 0l1 -1l7.1 0l1 -1l5 0l1 -1l5 0l1 -1l6 0l1 -1l1 0l3 3l1 0l2 2l5 0l1 1l1 -1l15 0l3 2l2 0l1 1l5 0l1 1l1 0l2 2l3 1l2 2l1 0l1 1l12 0l1 -1l2 0l1 1l5 0l1 1l2 0l1 1l1 0l2 2l1 0l2 2l1 0l3 2l1 0l1 -1l2 0l1 -1l6 0l3 2l1 0l1 1l2 0l1 1l4 0l1 1l3 0l1 1l1 0l2 2l1 0l2 2l1 0l3 2l2 0l1 1l2 0l1 1l4 0l1 1l11 0l1 1l4 0l1 1l2 0l1 1l2 0l1 1l2 0l1 1l21 0l1 1l2 0l1 1l8 0l1 -1l4.1 0l1 1l2 0l1 1l2 0l1 1l3 0l1 1l6 0l1 1l2 -2l0 -2l1 -1l0 -2l1 -1l0 -3l1 -1l0 -2l2 -3l1 0l1 -1l2 0l1 -1l3 0l1 -1l3 0l1 -1l4 0l1 -1l3 0l1 -1l3 0l1 -1l2 0l1 -1l7 0l1 -1l1 1l8 0l1 1l3 0l1 1l3 0l1 1l2 0l1 1l2 0l1 1l1 0l3 2l1 0l3 2l3 1l2 2l1 0l1 1l3 1l1 1l2 0l1 1l3 0l3 -2l2 0l6 -6l2 0l3 -2l2 0l1 1l4 0l3 2l2 0l3 2l2 0l3 2l3 1l1 1l2 0l2 2l1 0l3 3l1 0l3 3l3 1l1 1l1 0l1 1l5 0l1 1l2 0l1 -1l4 0l0 -2l3 -3l1 0l7 -7l1 0l3 -3l3 -1l1 -1l2 0l3 -2l5 0l1 -1l18.1 0l1 1l6 0l1 1l4 0l1 1l3 0l1 1l2 0l1 1l3 0l1 1l3 0l1 1l2 0l1 1l2 0l1 1l3 0l1 1l2 0l1 1l2 0l1 1l3 0l1 1l3 0l1 1l4 0l1 1l6 0l1 -1l2 0l1 -1l2 0l6 -6l0 -1l2 -2l1 -3l2 -2l0 -1l1 -1l0 -2l1 -1l0 -2l2 -3l0 -2l6 -6l1 0l5 -3l4 0l1 -1l4 0l0 163l-1118.5 0z" fill="#2b748e" fill-rule="evenodd"/>
<path d="M656.9 295l14.4 -0.5l26 3.3l25 5.4l16 1.7l16 3.2l15 1.7l23 6.3l23 3.6l17 4.3l34 3.4l15.1 3.2l5 0.5l5 -0.4l5 -1.3l23 -9.1l9 -3l8 -1.6l7 -0.5l11 1.1l16 5.2l6 1l6 -0.6l15 -4.1l4 -0.2l5 0.6l10 3.2l17 9.1l8 1.8l5 -0.2l5 -1.5l15 -8.4l9 -3.8l9 -2.3l9.1 -0.9l10 0.2l11 1.3l12 2.8l25 7.3l5 0.9l5 0l6 -1.2l6 -2.9l4.9 -3.6l10.1 -8.9l5 -3.5l5 -2.1l5 -0.8l0 141.3l-1118.5 0l0 -118.2l14 0.4l7 2.1l3 2l3 2.9l8.2 11.8l3.6 4l5.2 3.4l5 1.3l8 -0.5l19 -4.3l3 0.5l8 2.8l7 -0.2l8 -2.4l3 -2l4 -3.7l2 -0.9l3.1 0.7l9 6l7 2.2l17 1.8l13 -0.3l20 -2.3l17 -4.3l5 -2.4l10 -6.9l3 -1.3l3 -0.3l13 0.4l5 0.9l15 6.5l8 1.7l19 2.7l5 1.8l8 4.7l3 0.8l3 0.1l6 -1.6l6.6 -3.9l8.5 -7l11.9 -12.6l7.1 -5l9 -4.9l6 -2.5l6 -1.7l17 -2.6l8 -1.8l23 -8.7l8 -0.9l30 -0.4l22 0.4l8 -1l18 -3.7l10 -1l8 0l16 1.6l8 0.2z" fill="#287c8e" fill-rule="evenodd"/>
<path d="M666.3 307l1 -1l8 0l5 4l2 0l1 1l9 0l1 -1l4 0l1 1l9 0l1 1l2 0l1 1l3 0l2 2l1 0l1 1l5 0l1 1l2 0l1 -1l3 0l1 -1l12 0l1 1l3 0l1 1l4 0l1 1l9 0l1 -1l5 0l1 1l3 0l1 1l2 0l1 1l3 0l1 1l7 0l1 1l15 0l1 1l3 0l1 1l4 0l1 1l5 0l1 1l2 0l3 2l3 0l1 1l2 0l1 1l4 0l1 1l4 0l1 1l8 0l1 1l15 0l1 1l4.1 0l1 1l2 0l1 1l1 0l1 1l2 0l1 1l3 1l2 2l2 0l1 1l3 0l1 1l2 0l1 1l2 0l1 1l3 0l1 1l7 0l1 -1l2 0l1 -1l3 0l1 -1l1 0l3 -2l1 0l7 -7l1 0l4 -4l2 0l5 -3l2 0l1 -1l4 0l1 -1l8 0l1 1l2 0l1 1l1 0l2 2l1 0l5 3l2 0l1 1l5 0l1 -1l3 0l1 -1l2 0l3 -2l2 0l1 -1l2 0l3 -2l4 0l1 -1l7 0l1 1l2 0l1 1l2 0l1 1l1 0l2 2l3 1l5 4l3 1l5 3l2 0l1 1l12 0l1 -1l1 0l1 -1l1 0l1 -1l1 0l1 -1l3 -1l1 -1l2 0l1 -1l1 0l1 -1l2 0l5 -3l2 0l1 -1l2 0l1 -1l3 0l1 -1l2 0l1 -1l4 0l1 -1l4.1 0l1 -1l19 0l1 1l4 0l1 1l4 0l1 1l2 0l1 1l3 0l1 1l2 0l1 1l2 0l1 1l3 0l3 2l1 0l3 2l2 0l5 3l6 0l1 1l2 0l1 -1l4 0l1 -1l2 0l3 -2l1 0l1 -1l1 0l1 -1l3 -1l3 -3l1 0l5 -5l1 0l7 -6l1 0l1 -1l3 -1l0 131l-1118.5 0l0 -97l1 0l0 -1l6 -7l1 0l3 -3l1 0l1 -1l7 0l1 1l1 0l6 7l1 3l3 3l0 1l2 2l5 5l1 0l1 1l2 0l3 2l7 0l1 -1l2 0l1 -1l4 0l1 -1l2 0l1 -1l3 0l1 -1l2 0l5 -3l1 0l1 1l2 0l2 2l1 0l1 1l2 0l1 1l5 0l1 -1l4 0l1 -1l3 0l3 -2l3 -1l0 -1l1 -1l1 -3l2 -2l3.1 3l0 1l6 6l1 0l3 2l2 0l1 1l4 0l1 1l10 0l1 1l17 0l1 -1l19 0l1 -1l2 0l1 -1l3 0l1 -1l2 0l1 -1l1 0l1 -1l1 0l5 -3l2 0l1 -1l2 0l2 -2l1 0l1 -1l2 0l1 -1l1 0l0 -1l4 -4l1 0l5 5l3 0l6 -4l4 0l1 1l2 0l3 2l3 1l2 2l1 0l1 1l3 1l3 2l4 0l1 1l2 0l3 2l7 0l1 1l4 0l1 -1l4 0l1 -1l5 4l3 1l2 2l1 0l1 1l3 1l1 1l4 0l1 1l4 0l1 -1l1 0l8 -8l1 0l4 -4l1 0l1 -1l2 0l3 -3l1 -3l3 -3l2 0l1.1 -1l2 0l1 1l1 0l1 -1l1 0l3 -3l1 0l1 -1l3 -1l2 -2l2 0l1 -1l1 0l2 -2l1 0l1 -1l1 0l1 1l3 0l6 6l1 0l2 2l1 0l3 2l2 0l5 3l2 0l1 1l2 0l1 1l4 0l1 1l5 0l3 2l2 0l1 1l2 0l3 2l2 0l3 2l2 0l1 1l0 -7l-1 -1l0 -3l-1 -1l0 -3l-1 -1l0 -4l-1 -1l0 -5l-1 -1l0 -2l-1 -1l0 -1l-1 -1l-1 -3l-2 -3l0 -2l1 -1l1 1l5 0l1 1l4 0l1 1l7 0l1 -1l5 0l1 -1l4 0l1 -1l9 0l1 1l3 0l1 1l3 0l1 1l2 0l1 1l2 0l1 -1l6 0l1 -1l2 0l3 -2l3 0l1 -1l2 0l1 -1l2 0l1 -1l2 0l1 -1l3 0l1 -1l21 0l1 1l5 0l1 1l2 0l5 3l9 0l1 -1l4 0l1 -1l4 0l1 -1l4 0l1 -1l3 0l1 -1l4.1 0l1 -1l4 0l1 -1l3 0l1 -1l4 0l1 -1z" fill="#25848e" fill-rule="evenodd"/>
<path d="M666.9 324l14.4 0.3l42 4.5l43 0.2l30 5.3l12 1.2l23 1.1l20 3.9l18.1 2.2l8 1.8l20 6.3l9 1.2l13 -0.9l30 -4.4l26 -2.4l18 -3.3l7 -0.8l6 0.2l6 1l20 6.1l5 0.7l5 -0.1l8 -1.5l17 -6.2l10 -3l11 -2l11.1 -0.8l8 0.2l8 0.9l8 1.8l25 7.4l8 1.2l8 0.2l10 -1.6l20 -7.1l9 -1.5l0 109.9l-1118.5 0l0 -90.9l11 -2.6l5 -0.4l5 1.2l4 2.2l11 8.5l4 2l5 1.1l7 -0.4l23 -6l3 -0.1l10 1.9l7 -0.7l5 -1.3l7 -3.9l3 -0.9l3.1 0.9l10 7.3l9 3.2l14 1.9l22 0.2l12 -0.8l9 -2.2l6 -2.9l13 -8.5l5 -2.4l4 -0.5l8 0.9l10 -1.3l5 1.3l11 5.3l6 2.2l9 2.3l15 2.2l4 1.4l13 6.5l5 1.5l4 0.4l5 -0.9l4 -1.7l14 -10.3l7.1 -3.8l9 -3l10 -1.8l7 -0.2l7 0.8l29 6.5l15 4l5 0.5l4 -0.5l5 -2.2l3.8 -3l11.4 -15l5.8 -5.6l7 -3.9l10 -2.7l28 -4.7l9 -1l12 -0.1l18 2l9 0.3z" fill="#228c8d" fill-rule="evenodd"/>
<path d="M672.3 338l1 -1l6 0l1 1l1 0l3 2l2 0l1 1l9 0l1 -1l9 0l5 3l3 0l1 1l6 0l1 -1l4 0l1 -1l5 0l1 1l11 0l1 -1l2 0l1 -1l3 0l1 -1l3 0l1 -1l3 0l1 -1l5 0l1 1l2 0l1 1l2 0l3 2l2 0l1 1l2 0l1 1l2 0l1 1l5 0l1 1l3 1l3 2l3 0l1 1l1 0l1 -1l3 0l1 -1l4 0l1 -1l8 0l1 -1l3 0l1 -1l2 0l5 -3l1 1l2 0l1 1l3 0l5 3l2 0l1 1l3 0l1 1l2 0l1 1l21.1 0l1 1l5 0l1 1l3 0l3 2l2 0l3 2l2 0l3 2l2 0l1 1l16 0l1 1l3 0l1 1l2 0l1 1l3 0l1 1l3 0l1 1l4 0l1 1l4 0l1 1l6 0l1 1l2 0l1 1l1 3l1 1l0 1l2 2l0 1l1 0l1 1l2 0l1 1l1 0l1 -1l3 -1l0 -8l-1 -1l0 -3l-1 -1l0 -1l3 -3l3 0l1 -1l7 0l1 -1l4 0l1 -1l2 0l1 -1l2 0l3 -2l2 0l1 -1l3 0l1 -1l9 0l1 1l4 0l1 1l2 0l1 1l2 0l3 2l2 0l3 2l3 0l1 1l14 0l1 -1l2 0l1 -1l2 0l2 -2l1 0l5 -3l2 0l1 -1l2 0l1 -1l2 0l1 -1l2 0l1 -1l2 0l1 -1l2 0l1 -1l6 0l1 -1l28.1 0l1 1l3 0l1 1l3 0l3 2l1 0l1 1l3 1l1 1l2 0l1 1l1 0l1 1l3 0l1 1l4 0l1 1l9 0l1 1l20 0l1 -1l6 0l1 -1l2 0l1 -1l2 0l1 -1l1 0l1 -1l3 -1l1 -1l2 0l1 -1l2 0l3 -2l3 0l0 99l-1118.5 0l0 -77l1 0l4 -4l1 0l5 -4l1 0l1 -1l3 0l1 -1l1 1l2 0l12 12l1 0l5 3l4 0l1 1l3 0l3 -2l2 0l1 -1l3 -1l2 -2l2 0l1 -1l2 0l1 -1l2 0l1 -1l4 0l1 -1l2 0l1 -1l4 0l1 1l3 0l1 1l8 0l1 -1l6 0l1 -1l2 0l1 -1l1 0l6 -6l3.1 3l0 1l4 4l0 1l2 2l1 0l3 2l1 0l2 2l2 0l1 1l3 0l1 1l3 0l1 1l6 0l1 1l9 0l1 -1l2 0l1 1l5 0l1 1l18 0l1 -1l6 0l1 -1l4 0l1 -1l2 0l10 -10l0 -1l8 -8l4 0l9 9l1 -1l1 -3l2 -2l5 -3l3 2l3 1l1 1l1 0l2 2l3 1l2 2l2 0l1 1l2 0l1 1l2 0l1 1l3 0l1 1l5 0l1 1l12 0l3 3l1 0l5 5l1 0l2 2l1 0l6 6l0 1l6 6l0 1l2 2l0 1l1 1l0 2l1 0l0 -1l1 -1l0 -2l1 -1l0 -3l1 -1l0 -2l1 -1l2 0l1 -1l6 0l1 -1l1 0l2 -2l0 -1l2 -3l0 -2l1 -1l1 -3l2 -2l0 -1l4.1 -4l10 0l1 -1l17 0l1 -1l6 0l5 3l2 0l1 1l2 0l1 1l5 0l1 -1l6 0l1 1l4 0l1 1l2 0l2 2l3 1l2 2l1 0l4 4l1 0l3 3l1 0l5 4l3 1l2 2l9 0l1 -1l2 0l1 -1l2 0l1 -1l1 0l2 -2l3 -1l5 -5l0 -1l2 -2l0 -2l2 -2l0 -1l-1 -1l0 -7l-1 -1l0 -3l-1 -1l0 -2l-1 -1l0 -4l-1 -1l5 -5l1 0l1 -1l2 0l1 -1l20 0l1 -1l5 0l1 -1l2 0l1 -1l4 0l1 -1l13 0l1 -1l1 0l1 1l7 0l1 1l2 0l1 1l3 1l3 2l1 0l1 1l4 0l1 -1l7 0l1 -1l5 0l1 -1l5.1 0l1 -1l8 0l1 -1l7 0l1 -1l6 0l1 -1z" fill="#1f948c" fill-rule="evenodd"/>
<path d="M663.7 356l14.6 -0.2l33 1.9l20 -1.5l25 -0.9l13 1.2l24 4l8 0.6l10 -0.6l19 -2.5l8 0l16 2.4l28.1 2.9l25 3.8l32 7.5l6 2.1l10 4.8l7 1.5l6.7 -1l20.3 -7l12 -3l10 -1.1l19 -0.1l9 -0.6l9 -1.3l17 -3.8l7 -0.9l12 0.6l48.1 7.9l22 2.2l17 -0.3l24 -3.6l8 -0.6l0 75.6l-1118.5 0l0 -66.5l17 -0.9l6 1l12 3.3l8 0.3l6 -1.7l12 -6.8l6 -2.3l5 -0.6l10 0.4l10 -1l5 -1.1l7 -3.3l3 -0.6l4 1.4l6.1 5.7l4 3l4 2.1l5 1.7l12 2.7l14 1.5l18 3l6 0.2l7 -1.6l7 -3.5l6 -4.6l10 -11l3 -1.6l3 -0.4l3 0.7l7 3.4l12 1.9l18 5.9l10 1.4l15 0.1l5 0.9l5 2.6l3.9 3.3l5.7 7l5.4 8l3 2l2 -0.4l1.6 -1.6l1.7 -5l1.6 -2l6.1 -1.8l3 -1.5l3 -2.6l4 -5.3l2 -1.8l8.1 -3l9 -1.2l17 1.7l11 2.2l11 3.7l31 12.9l7 1.9l7 0.4l6 -0.8l5 -1.5l5 -2.2l5 -3l8.1 -7.1l8.9 -11.8l4 -4.3l6 -4.2l9 -3.5l10 -2.2l11 -1.2l9 0l25 1.3z" fill="#1e9c89" fill-rule="evenodd"/>
<path d="M729.3 368l1 -1l1 0l4 4l0 1l4 5l1 -1l1 0l2 -2l0 -1l2 -2l0 -1l2 -2l1 0l1 -1l3 0l1 1l1 0l2 2l1 0l2 2l2 0l1 1l3 0l2 -2l13 0l3 2l2 0l1 1l2 0l3 2l2 0l1 1l1 0l1 -1l8 0l1 -1l9 0l1 -1l6 0l1 -1l3 0l1 -1l1 0l3 -3l2 0l1 -1l6 0l3 2l1 0l3 2l2 0l1 1l4 0l1 -1l8 0l3 2l2 0l1.1 1l2 0l1 -1l5 0l1 -1l23 0l1 1l3 0l3 2l1 0l2 2l1 0l1 1l4 0l1 1l5 0l1 1l6 0l1 1l6 0l1 1l4 0l1 1l2 0l1 1l1 0l1 1l2 0l1 1l2 0l3 2l2 0l1 1l2 0l1 1l2 0l1 1l4 0l1 1l6 0l1 1l4 0l1 1l3 0l1 1l2 0l1 1l5 0l1 -1l1 0l1 -1l0 -1l2 -2l0 -1l3 -3l1 0l1 -1l4 0l1 -1l14 0l1 -1l8 0l1 -1l4 0l1 -1l4 0l1 -1l5 0l1 -1l5 0l1 -1l5 0l1 -1l2 0l1 -1l3 0l3 -2l5 0l4 4l0 1l2 2l0 1l4 4l1 0l1 1l3 0l1 1l5.1 0l1 1l8 0l1 1l27 0l1 1l7 0l1 1l4 0l1 1l6 0l1 1l7 0l1 1l13 0l1 -1l3 0l1 -1l2 0l1 -1l2 0l3 -2l2 0l5 -3l2 0l1 -1l1 0l5 -3l0 61l-1118.5 0l0 -45l1 0l10 -10l1 0l1 -1l2 0l1 -1l4 0l1 1l2 0l1 1l1 0l1 1l3 1l5 3l2 0l1 1l4 0l1 -1l2 0l2 -2l3 -1l2 -2l1 0l3 -3l0 -1l8 -8l3 -1l2 -2l2 0l1 1l2 0l3 3l1 0l1 1l3 0l1 -1l3 -1l2 -2l1 0l1 -1l2 0l1 1l4 0l1 -1l2 0l7 -7l1 0l3 2l0 2l1 1l0 1l6.1 7l1 0l2 2l1 0l1 1l2 0l1 1l5 0l1 1l2 0l3 2l3 0l1 1l10 0l1 1l4 0l1 1l3 0l1 1l2 0l3 2l2 0l1 1l1 0l2 2l0 1l4 4l1 3l2 2l0 1l1 1l0 1l3 2l1 0l6 -7l0 -1l2 -2l1 -3l3 -3l0 -1l2 -2l1 -3l3 -3l1 -3l2 -2l1 0l3 -3l0 -2l1 -1l0 -2l1 -1l0 -1l4 -4l3 0l8 8l0 1l4 4l1 -1l3 -1l2 -2l2 2l1 0l1 1l7 7l0 1l4 4l2 -2l0 -2l1 -1l3 0l1 -1l3 0l1 1l3 0l1 1l1 0l1 -1l4 0l1 1l3 1l6 -6l3 -1l1 -1l1 1l2 0l1 1l1 0l5 5l0 1l2 2l0 1l1 1l0 1l1 1l1 3l2 2l1 3l3 3l1 0l2 2l1 -1l2 0l2 -2l0 -2l2 -2l0 -2l2 -3l2 2l0 1l2 2l0 1l1 0l0 -1l2 -2l1 -3l2 -2l1 -3l2 -2l0 -1l2 -2l0 -1l2 -2l1.1 0l1 1l0 1l2 2l1 0l1 -1l1 0l2 -2l2 0l1 -1l2 0l1 -1l1 1l1 0l3 2l1 0l2 2l1 0l1 1l10 0l1 -1l3 0l1 1l3 1l4 4l1 0l3 3l1 0l5 5l0 1l1 1l0 1l2 2l0 1l2 0l2 -2l2 0l1 -1l3 0l1 -1l2 0l1 1l1 0l1 1l2 0l3 2l3 1l1 1l5 0l1 1l8 0l1 -1l3 0l1 -1l3 0l1 -1l3 0l1 -1l2 0l1 -1l2 0l1 -1l3 -1l2 -2l3 -1l7 -6l3 -1l2 -2l1 0l0 -1l3 -3l0 -1l2 -3l1 -3l4 -4l1 0l1 -1l8 0l1 -1l4 0l1 -1l4 0l1 -1l4 0l1 -1l16 0l1 -1l3 0l1 1l4 0l1 1l5 0l1 1l18.1 0l1 1l1 0l1 -1l3 0l1 -1l3 0l1 -1l3 0l1 -1l4 0l1 1l8 0l1 -1l9 0l1 1l2 0l1 1l3 0l1 1l5 0l1 1l4 0l1 1l7 0l1 1l1 -1l3 0l1 -1l4 0l1 -1l2 0l1 -1l1 0z" fill="#20a486" fill-rule="evenodd"/>
<path d="M746.8 386l7.5 0.3l25 4.2l20 1.2l18 -0.6l19 -3.3l7 -0.7l26.1 0.1l12 0.7l17 2.5l57 12.6l20 1.9l14 2.7l7 0.8l16 -0.8l32 -4.8l15 -1.2l10 0.4l23.1 2.7l28 2.2l27 3.7l12 0.9l15 -0.7l21 -4l8 -0.7l0 39.9l-1118.5 0l0 -34.4l20 -1.9l16 -0.7l7 -1.1l8 -3l13 -8.1l6 -2.8l5 -1.3l14 -2l16 -4.2l4 0.1l4.1 1l13 6.3l7 2.8l15 3l5 1.7l7 4l12 10l3 1.5l3 0.7l5 -0.5l4 -2.6l9 -12.5l10 -9.4l7 -3.9l6 -0.9l9 2l23 8.1l5 0.3l23 -1l4 0.4l3 1.4l2.6 2l10.4 11.2l4 2.5l4 1.2l6 0l6 -1.9l8 -4.8l10.1 -8.4l4 -2.7l5 -2l5 -0.6l10 1.6l9 2.8l5 2.9l10 7.6l5 2.3l5 0.6l9 -1.4l5 0.2l4 1.2l11 5.1l7 1.1l9 -1.4l17 -4.8l10.3 -4.3l16.7 -8.6l7 -2.7l11 -2.9l15 -2.7l17 -1.5l31.1 0l29 -1.5l22 0.2l24 -2.9z" fill="#25ac82" fill-rule="evenodd"/>
<path d="M192 394l1 -1l2 0l1 1l3.1 1l8 8l1 0l3 3l1 0l3 2l3 0l1 1l2 0l1 -1l4 0l1 -1l5 0l1 1l1 0l7 7l1 3l2 2l0 2l2 3l0 2l1 1l0 2l2 2l0 1l2 2l0 1l3 3l1 0l3 2l2 -2l1 0l3 -3l0 -1l2 -2l1 -3l3 -3l0 -1l2 -2l0 -1l3 -3l0 -1l4 -5l0 -2l1 -1l0 -1l1 -1l1 -3l1 -1l3 -1l3 -3l3 -1l2 -2l1 0l3 -2l2 0l1 -1l4 0l2 2l2 0l6 6l6 0l1 -1l2 0l1 -1l1 0l1 1l2 0l3 3l0 1l2 3l0 2l1 1l2 0l1 -1l2 0l1 -1l1 0l5 -3l2 0l1 -1l1 0l2 3l0 1l2 2l2 0l1 1l2 0l0 -1l1 -1l0 -2l1 -1l0 -2l2 -2l2 0l2 3l0 3l1 1l0 3l1 1l0 2l1 1l0 2l3 3l1 0l3 2l0 1l1 1l0 2l2 3l0 2l1 1l0 1l1 1l0 1l1 1l1 3l4 4l-304.1 0l0 -18l1 -1l3 -1l1 -1l2 0l1 1l7 0l1 1l5 0l5 -3l8 0l1 1l3 0l1 1l3 0l1 1l3 0l1 1l8 0l1 -1l1 0l0 -4l1 -1l0 -2l1 -1l0 -1l7 -7l0 -1l6 -6l1 0l1 -1l4 0l1 1l2 0l2 2l1 0l5 3l1 -1l1 0l2 -2l1 1l0 1l3 3l0 1l3 5l0 1l1 -1l0 -5l1 -1l0 -4l1 -1l0 -3l1 -1l0 -4l1 -1l0 -1zM725.3 397l1 -1l4 4l0 1l2 3l0 1l2 2l3 -3l1 0l5 -5l1 0l3 -3l1 0l1 1l1 0l3 3l1 3l6 6l1 0l3 2l2 0l1 1l2 0l1 1l2 0l1 -1l2 0l1 -1l2 0l1 -1l5 0l1 -1l7 0l1 -1l2 0l1 -1l1 0l1 1l5 0l1 1l3 0l1 1l2 0l1 1l1 0l2 2l2 0l1 1l4 0l1 1l6 0l1 1l1 0l2 -2l1 0l1 -1l0 -2l1 -1l0 -2l1 -1l1 -3l4 -4l4 0l1 1l4 0l1 1l12 0l1 -1l2 0l1 -1l3.1 0l1 -1l2 0l1 1l1 0l1 1l2 0l1 1l3 0l1 1l3 0l1 1l4 0l1 1l3 0l1 1l3 0l1 1l2 0l1 1l3 0l1 1l4 0l1 1l6 0l1 1l6 0l1 1l6 0l1 1l3 0l1 1l2 0l2 2l1 0l2 2l1 0l2 2l1 0l1 1l2 0l1 -1l7 0l1 -1l6 0l4 -4l1 0l1 -1l4 0l1 1l1 0l4 4l1 0l4 4l1 0l3 3l1 0l1 1l8 0l1 1l3 0l1 1l4 0l1 1l3 0l1 1l3 0l1 1l7 0l1 -1l2 0l3 -3l0 -1l2 -2l1 0l5 -3l2 0l1 -1l5 0l1 -1l23 0l1 1l8 0l1 -1l32.1 0l1 1l5 0l1 1l4 0l1 1l3 0l1 1l2 0l1 1l2 0l1 1l2 0l1 1l3 0l1 1l6 0l1 1l14 0l1 -1l15 0l1 -1l3 0l10 -6l2 0l1 -1l3 0l1 -1l2 0l0 27l-727.5 0l-1.7 -2l-0.1 -5l4 -5l0 -1l2 -3l0 -2l1 -1l0 -2l1 -1l0 -1l1 -1l1 -3l1 -1l3 0l1 -1l5 0l5 5l0 1l3 3l1 3l3 3l1 3l3 3l1 3l2 2l1 -3l3 -3l0 -1l3 -3l0 -1l1 -1l1 0l3 -3l1 0l2 -2l4 0l1 -1l5 0l1 -1l5 0l1 -1l1 0l1 -1l2 0l1 -1l6 0l1 -1l2 0l1 -1l1 0l3 -2l1 0l2 -2l1 0l4 -4l2 0l1 1l2 0l1 1l2 0l1 1l3 0l1 1l5 0l1 1l1 0l1 -1l2 0l2 -2l2 0l2 -2l2 0l2 -2l3 0l1 -1l5 0l1 -1l22 0l1 1l9.1 0l1 1l7 0l1 1l6 0l1 1l1 0l3 -2l3 -1l2 -2l2 0l1 -1l5 0l1 -1l8 0l1 1l3 1l3 3l1 0l2 2l1 0l1 1l3 0l3 -3l1 -3l1 -1l0 -2l2 -2l1 0l1 1l2 0l1 1l2 0l1 1l2 0l1 -3l2 -2l0 -1zM434.2 403l1 -1l1 1l2 0l1 1l2 0l1 1l2 0l1 1l3 0l1 1l2 0l4 4l0 2l2 3l0 2l1 1l0 2l1 1l0 2l1 1l0 2l2 3l0 2l2 3l0 2l2 2l0 2l1 1l0 2l1 1l0 1l-78.1 0l3 -2l0 -2l1 -1l0 -6l1 -1l0 -2l1 -1l0 -1l3 -3l11 10l0 -1l1 -1l0 -2l1 -1l0 -2l1 -1l0 -2l1 -1l0 -2l1 -1l1 -3l2 -2l0 -1l2 -2l2.1 3l0 1l1 1l1 3l1 -1l0 -4l1 -1l0 -5l2 -3l0 -2l3 -3z" fill="#2fb47c" fill-rule="evenodd"/>
<path d="M858.1 419l13.3 -0.8l12 0.7l65 14.1l26 1.6l21 2.9l22 2l10 -0.1l20 -3.1l16 -0.8l45.1 0.4l48 3.3l21 -0.3l26 -1.7l0 8.8l-669.7 0l17.4 -6.8l16 -4.3l47 -7.8l14 -1.7l33.1 -1.6l21 -1.7l21 0.2l18 -2l13 -0.4l13 0.4l22 2.8l28 -0.2l29 2l8 -0.9l14 -3.4zM164.4 424l7.6 -0.5l14 1.8l15.1 0l11 1.7l7 2.1l7 2.9l15.8 9l10.1 5l-167 0l0 -13.7l8 -0.6l12 0.4l10 -0.4l16 1.8l8 0l6 -1.4l12 -5.9zM306.6 428l7.5 -0.4l9 0.6l19 2.5l11 2.1l9 2.5l8 3.1l9 4.3l5.2 3.3l-117.3 0l24.1 -13.7l8 -2.9zM432.5 437l5.7 -0.5l6 1l5 2.1l10.8 6.4l-53 0l3.1 -1.6l15.1 -5.4zM493.9 445l5.3 -0.4l2.8 1.4l-12 0z" fill="#3bbb75" fill-rule="evenodd"/>
<path d="M881.2 433l3.2 -1l6 7l0 3l0 -3l2 -0.7l5 -0.1l11 1.7l27.6 6.1l-331 0l42.3 -5.9l32 -3.2l19 -1.2l38 -1.1l35 1.1l54 0.6zM172 435l1 -1l5 0l5 3l2 0l1 1l17.1 3.3l13.6 4.7l-131.7 0l0 -8l4 0l1 -1l10 0l1 1l15 0l1 1l3 0l1 1l21 0l1 1l10 0l1 -1l1 0l2 -2l2 0l1 -1l2 0l1 -1l4 0l1 -1z" fill="#4cc26c" fill-rule="evenodd"/>
</g>
<path d="M85.0 446.5H1204.5M85.0 407.5H1204.5M85.0 369.5H1204.5M85.0 330.5H1204.5M85.0 292.5H1204.5M85.0 253.5H1204.5M85.0 215.5H1204.5M85.0 176.5H1204.5M85.0 138.5H1204.5M85.0 99.5H1204.5M85.0 61.5H1204.5" stroke="#b0b0b0" stroke-width="1.11" fill="none"/>
<path d="M85.3 158.2l7.2 2.5l3.8 0.6l5 -2.5l5 -3.1l5.1 0l10 6.3l5 0.6l6.3 -2.5l5 -2.5l2.5 -5.1l2.5 -6.2l3.8 -2.5l6.3 -1.3l6.2 -2.5l6.3 0l2.5 5l3.8 5l5 3.2l7.5 2.5l6.3 -1.3l5 -1.9l5.1 1.3l5 2.5l30.1 -5l7.5 0.6l4.9 0.1l5 5l3 9l3 7l5 5l16 8l10 2l10 0.4l6 0.6l4 5l4 6l6 4l8 -1l8 -2l6 -2l6 2l6 3l8 2l10 0.6l10 -0.6l10 -0.4l8 -1.6l5 -4l-2 -6l-5 -5l-6 -5l-3 -5l3 -6l6 -3l8 -1l8 1l10 0.4l10 -1.4l8 1l6 3l5 6l5 4l6 -2l6 -6l6 -3l6 -0.4l8 3.4l10 1.7l10 0.9l10.1 -1.7l10 -2.8l8.4 -1.4l6.7 1.7l6.7 -4.2l6.7 -2.8l6.6 2.8l6.7 2.5l8.4 -5l13.4 5l8.4 -3.7l5 1.2l5 7.5l6.7 2.6l8.3 -0.9M671.4 172l0.9 -0.3l8.5 1.8l-0.8 -0.3l5 1.9l3.8 5l5 5l5 3.8l3.8 1.5l3.1 -4l1.9 -7.5l2.5 -5.7l3.8 -3.1l3.7 -0.3l5.1 2.8l5 3.1l5 2.5l6.3 0l6.2 -0.8l7.6 0.8l7.5 1.7l7.5 0.2l7.6 0.4l7.5 -0.4l6.3 -1l5 0.4l10 3.8l3.8 -0.4l3.7 -2.8l5.1 -3.1l5 -1.3l6.3 -0.6l6.2 0l5.1 1.2l5.6 2.6l-0.8 -0.4l5.9 4.1l20.1 1.7l10 0.3l8.4 -1.1l5 -2.5l5 -5.1l6.7 -4.5l6.7 -1.7l6.7 1.2l25.1 7.5l13.3 6.7l8.4 2l8.4 0.5l8.3 -1.1l8.4 -3l25.1 -12.6l6.7 -2.5l8.4 -0.8l8.3 0.8l10.9 1.3l-2 -0.2l8.7 -1.4l8.4 -2.2l6.7 0l6.7 2.2l4.6 0.9l3.7 0.7l10.1 1.2l10 -0.3l10.1 -0.9l11.7 0.7l11.7 0.5l13.4 0l13.3 0.2l13.4 -0.2l10.1 -1.2l13 -2.6" fill="none" stroke="#000" stroke-width="2.08" stroke-linejoin="round" stroke-dasharray="7.7 3.33"/>
<path d="M750.3 225.7l5.7 2.3l14.3 12l5.1 5l6.2 5l3.8 6.3l1.2 5.7l-3.7 2.5l-7.5 0.5l-7.6 0.7l-1.9 -0.6M747.6 229.6l2.7 -3.9M85.3 183.3l7.2 -1.9l8.8 -5l7.6 -3.8l7.5 0.7l6.3 1.2l7.5 -1.6l6.3 -2.8l6.2 -5l5.1 -1.3l7.5 -0.6l6.3 -0.9l5 3.4l6.3 5l7.5 4.4l6.3 1.9l6.2 -0.6l3.8 3.8l-0.6 7.5l-1.9 6.3l-6.3 1.8l-5 1.9l-2.5 5l-1.3 3.3l-4.4 6.5l-3.1 6.3l-3.8 5l-5 4.4l-6.3 1.9l-6.2 2.5l-5.1 3.8l-1.2 6.3l0.2 7.5l0.4 6.3l3.2 3.7l10 5l7.5 1.9l7.6 -4.4l6.2 -2.5l7.6 -7.5l3.7 -5l5 -6.3l3.2 -6.3l1.2 -10l1.3 -7.5l1.9 -1.3l2.5 5l3.7 6.3l4.4 3.8l4.4 -1.3l3.8 -5l3.8 -7.5l5 -7.6l5 -5l6.3 -2.5l3.1 -0.6l5 -1.5l10 -0.8l10 1.4l10 3l12 1.6l10 0l6 2.4l6 5l8 4l8 3l8 1l6 -2l5 -5l3 -0.4l6 4l10 0.8l12 0.6l10 1l8 1.6l8 2l8 -1.6l3.6 -4l0.4 -10l0 -10l3 -5l5 -3l8 -1l6 0.6l6 4.4l6 5l4 2l16 -6l8 -2.6l10 -0.8l13.7 1.1l-3.7 -0.9l8.4 2l8.3 1l8.4 0.4l13.4 -5.1l8.3 0l8.4 -1.6l8.4 -0.9l8.3 0.9l8.4 -1.7l6.7 1.7l6.7 3.3l6.7 -1.7l6.7 -0.8l6.7 2.2l8.3 1.1M665.6 193.4l1.7 -0.8l8.4 -1.1l8.3 -0.5l5 3.4l5.1 7.4l3.5 5.7l5 15.1l3.7 8.8l3.8 0.6l5 -4.4l2.5 -5l0.7 -7.5l-1.3 -15.1l6.9 -3.3l5 1.6l3.8 2.5l3.8 4.4l2.5 4.4l3.7 -2.5l5.1 -4.4l5 -2.5l5 -1l5 0.4l5 0.8l5.1 2l5 1.8l3.7 0.4l5.1 -1.9l5 -1.5l5 -0.4l5 1.6l5 2.2l5 1.2l6.3 -0.6l6.3 -1.9l6.3 -1.6l6.2 -0.5l5.1 0.9l3.1 1.2l10.1 0.6l8.4 2.1l10 3.4l10 2.8l10.1 1.7l6.7 -1.2l5 -4.1l3.3 -6.7l3.4 -7.6l5 -4.1l6.7 -0.9l8.4 1.7l25 7.5l16.8 3.4l8.3 0.8l8.4 -1.2l8.4 -1.6l8.3 -1.4l8.4 -1.7l6.7 -3.3l5 -5l5 -3.7l6.7 -1.7l10.9 -0.5l11.7 0l11.8 0.5l11.7 1.2l10 1.2l10 0.5l10.1 -0.9l11.7 -0.3l13.4 -0.5l13.4 -0.8l13.3 -0.4l13.4 0.4l10.1 0.5l13 -0.5" fill="none" stroke="#000" stroke-width="2.08" stroke-linejoin="round" stroke-dasharray="7.7 3.33"/>
<path d="M811.7 277.6l3.8 2.6l5 2.5l6.3 3.1l4.4 0.6l1.9 -5l-1.3 -5.6l-3.7 -4.4l-5.1 -0.7l-5 3.2l-6.3 3.7M85.3 195.2l7.2 -1l8.8 -1.5l8.8 -2.5l7.5 0l7.6 0l7.5 -1.9l7.5 -0.6l5 0.6l5.1 3.1l6.2 1.9l6.3 1.3l0.6 3.7l-5.6 3.2l-4.4 1.2l-1.9 3.3l-1.9 6.5l-0.6 6.3l-3.8 4.4l-3.7 3.8l-3.2 5.6l-1.2 5l-1.3 8.8l-1.2 7.6l-1.9 5l-3.8 3.7l-5 2.5l-3.1 4.9l-1.7 7.5l0.4 5l1.8 7.4l0.9 4.2l1.6 6.7l2.5 5.8l2.5 5l3.4 4.2l4.2 4.2l2.5 -0.8l1.7 -5l1.2 -6.7l2.1 -5.9l3.3 -3.3l5.9 -2.5l5 -2.1l5.9 -2.1l5 -1.3l6.4 -3.4l5 1.9l5 3.8l2.5 -2.5l2.5 -5.1l2.5 -4.4l5 1.3l2.6 4.4l1.8 7.5l1.9 8.8l2.5 5l6.3 1l8.8 0.3l8.8 -0.3l14.4 -1l-4.8 0.4l9.8 -2.4l10.1 -1.3l11.3 -0.6l10 -1.2l8.8 -1.5l4.4 -1l2.5 -4.1l0.6 -5.8l1.3 -5l1.2 -5l-0.6 -5l-2.5 0.6l-3.1 5.6l-2.6 3.2l-5 -2.5l-5 -3.8l-3.8 -3.1l-5 0.6l-3.1 1.9l-3.2 4.4l-4.3 1.9l-4.4 -1.9l-0.7 -4.4l3.2 -5l5 -5.1l1.9 -5l-0.7 -6.3l-2.5 -5l-5 -5l-5 -6.3l-1.3 -5l5.1 -5l10.4 -4l12 -2l10 -2l8 -1l6 3l6 5l8.1 3.2l-2.8 -2.2l6.3 5l6.2 2.5l6.3 3.8l6.3 3.1l6.3 1.9l5 -0.2l1.9 -4.8l0.6 -5l3.7 -3.2l7.6 -1.2l10 -0.4l8.8 -0.2l8.8 0.6l-2.9 -0.2l7.8 1.9l8 1.4l8 -1l8 -3l6 -3l4 -5l4 -4l8 -3l10 -0.4l10 0.4l8 -0.4l8 -2l10 -2l13.7 -0.6l-3.7 -0.8l8.4 1.7l10 1.7l10 0.8l8.4 -3.4l8.4 -2.8l8.3 0.7l10.1 3l6.7 -2.5l6.7 -3.4l6.7 0.9l6.6 4.1l6.7 1.7l8.4 -2.5l8.4 -1.3l8.3 1.3l10.1 1.7l10 2l8.4 -0.3l8.3 -1.7l8.4 -0.4l8.4 -0.5l8.5 0.2l-4.2 -0.5l5 0.6l5 1.2l3.8 5.1l2.5 7.5l2.5 8.8l2.5 6.3l3.8 5l6.3 2.5l6.2 0l5.1 -0.3l3.7 2.2l1.9 4.4l1.9 3.7l5 1.3l5 -0.7l5 3.2l2.6 2.5l5 6.1l5 0.6l5 0.7l5 1.5l6.3 2.2l6.3 1.9l7.5 3.2l6.3 1.8l6.3 1.7l5 -0.4l3.7 -2.5l2.5 -3.2l-1.2 -0.6l-5 -3.1l-5 -3.8l-2.6 -5l-1.2 -6.3l-1.9 -6.3l-2.5 -6.2l-3.1 -6.1l1.2 -6.2l2.6 -5l3.7 -2.7l3.8 2.7l3.7 5l2.5 6l3.8 6.4l2.5 0.6l3.8 -5.6l3.7 -6.4l3.8 -3.6l6.3 -3.2l7.4 -1.2l7 -0.7l10.1 -1l8.4 1.7l8.3 2.5l6.7 4.2l6.7 2.5l8.4 0.8l10 -0.3l10.1 0.3l10 0.3l10 -0.6l6.7 -1.4l8.4 -2l8.3 -1.3l8.4 -0.4l8.4 0.7l8.3 1.4l8.4 0l6.7 -1.7l6.7 -3.4l6.7 -3.6l8.3 -3.9l6.7 -3.3l5.1 -4.2l5 -5l5 -2.6l9.2 -1.1l-3.7 0.4l8.8 -0.4l10 0l11.7 1.1l11.7 0.9l11.7 0.8l11.7 0l11.8 -0.3l13.3 -0.5l13.4 -0.4l13.4 -0.1l13.4 0l13.4 -0.4l8.3 -0.8l4.7 -0.8" fill="none" stroke="#000" stroke-width="2.08" stroke-linejoin="round" stroke-dasharray="7.7 3.33"/>
<path d="M1203.6 230.8l-90 0l-13.4 0.5l-10 1.2l-5.9 2.5l-2.5 4.2l2.5 3.3l7.6 2.6l8.3 3.3l5 5l5.1 13.4l5 6.7l5.8 5l0.9 3.4l-5 3.3l-6.7 0.8l-8.4 -2.5l-6.7 -4.1l-6.7 -5.1l-8.3 -3.3l-10.1 -3.4l-20.1 -5l-10.9 -2.8l-8.3 -1l-8.4 -0.4l-8.4 0l-8.3 0.4l-8.4 1l-8.4 2.8l-8.3 1.7l-8.4 3.3l-5 5.9l-3.4 5l-5 -7.5l-6.7 -4.2l-8.3 -2l-10.1 -1.3l-10 0.8l-8.4 0l-13.4 -6.7l-8.3 -1.7l-8.4 -0.5l-8.4 -2l-6.6 -2.5l-8.4 -2.2l-8.4 1.7l-8.4 8.4l-0.6 1.3l-1 11.3l-0.6 12.8l-0.1 -4.2l0.2 5l0.5 5l0.1 5.1l-0.8 4.1l-2.5 4.2l-3.4 2.7l-3.3 -0.6l-3.3 -2.1l-3.4 -4.2l-3.3 -3.3l-5.1 -2.1l-5.8 -1.3l-11.7 0.5l-5.9 -1.3l-5 -1.7l-8.4 -2.9l-6.2 -1.9l-5.1 -1.9l-5 -3.1l-5 -1.3l-5 1.3l-3.8 -0.7l-2.5 -3.1l-2.5 -4.4l-5 -1.9l-6.3 -0.6l-7.5 -3.5l-5 -2.6l-6.3 -1.9l-6.3 -2.5l-5 -2.5l-3.8 -3.8l-1.6 -2.2l-2.1 -2.8l-3.8 -6.3l-3.8 -5l-5 -2.5l-5 -1.3l0.8 0.2l-10.2 0l-2.7 0.2M625 232.7l-4.5 -0.7l-6.7 -1.7l-5.1 2.5l-5 3.3l-6.7 0.5l-8.3 -0.5l-6.7 -1.6l-6.7 -2.2l-8.4 0.5l-8.3 0l-8.4 1.2l-10 1l-10.1 0l-10 -1l-10.1 -0.7l-10 -0.5l3.7 0.2l-9.7 0.6l-8.7 4.4l-3.3 1.3l-8.4 0.7l-8.3 -0.7l-6.7 2l-6.7 3.4l-6.7 1.7l-10 -0.9l-10.1 0.9l-10 1.3l-10.1 1.1l-8.2 -1.2l-8.7 -0.7l-7.6 0.7l-5 1.8l-3.8 3.2l-1.8 5l-1.3 15.1l-1.9 6.2l-5 4.4l-1.5 1l-2.3 1.5l-3.1 -1.8l-3.8 -10.1l-3.1 -2.5l-5 0.6l-3.8 3.2l-2.2 8.8l-1.7 13.4l-2.5 3.3l-5 -2.1l-0.9 1.7l-3.7 10.5l-2.9 -6.3l-0.9 -4.6l-4.2 -5.4l-2.1 -0.9l-2 1.3l-3.4 6.2l-0.8 -1.2l-4.6 -5.4l-1.3 5.4l-2.9 5.4l-2.1 4.2l-5 2.1l-3.4 4.6l-5.8 2.1l0.8 -0.3l-7.4 1.9l-7.5 0.2l-7.5 -0.6l-7.6 1.9l-7.5 3.1l-14.4 0.6l-10.1 -0.3l-8.8 -0.3l-6.2 -1.9l-5 -6.6l-1.3 -10.8l-1.9 -5.6l-3.1 0l-2.2 7.1l-2.1 4.2l-1.2 6.7l-1.3 5.9l-2.5 3.3l-4.2 0.4l-3.3 3l-4.2 0.8l-4.2 -2.5l-3.3 -3.8l-4.2 -2.5l-4.2 -0.4l-5.9 1.7l-4.2 2.5l-3.3 3.3l-3.3 1.7l-3.8 2.5l-3.8 -1.7l-4.2 -4.2l-3.3 -5l-2.5 -6.7l-5 -17.5l-3.5 -15.8l-1.2 -7.5l0.8 -9.1l0.4 -5.8l1.3 -6.2l3.1 -4.4l5 -2.5l4.4 -3.2l2.5 -6.3l0.9 -10l-0.3 -8.8l-3.1 -3.7l-6.9 -0.7l-8.8 1.3l-10 -0.4l-17.3 -2.1" fill="none" stroke="#000" stroke-width="2.08" stroke-linejoin="round" stroke-dasharray="7.7 3.33"/>
<path d="M1203.6 255.9l-9.7 -0.8l-10 0l-10.1 0.3l-10 0.5l-10 0.9l-10.1 1.3l-8.3 2l-2.5 0.9l5.8 1.6l6.7 3.4l3.3 5.8l1.7 6.7l0.3 0.9l4.7 12.5l3.4 6.7l0.8 4.2l-4.2 3.3l-6.7 1.2l-6.6 -1.2l-8.4 -3.3l-6.7 -3.4l-8.4 -2.5l-20 -3.3l-8.4 -1.7l-8.4 -3.3l-8.3 -2.6l-8.4 -2.1l-6.7 -0.7l-4.2 2l-1.7 6.7l-0.5 6.7l-2 6.7l-2.5 3.3l-5 3.4l-6.7 -0.4l-6.7 -3.8l-10.1 -11.7l-6.6 -3.4l-6.7 -1.6l-8.4 -1.2l-6.7 0.3l-5 3.4l-3.4 6.7l-5 4.7l-5 -1.4l-5 -5.8l-6.7 -4.2l-8.4 -4.2l-0.8 -0.3l-7.5 -3.1l-8.4 -2.5l-8.4 -0.8l-8.3 -0.5l-8.4 -2l-6.7 -2.5l-6.7 0l-8.3 1.7l-6.7 0l-8.4 -0.9l-8.4 -3l-5.8 0.5l-1.1 4.6l-0.4 -0.6l1.6 2.5l1.7 5l0.4 5.9l-1.2 5l-2.5 4.2l-3.4 2.5l-5.8 2.1l-5.1 2.5l-5 2.1l-4.2 0.8l-3.3 -1.2l-3.4 -2.5l-4.1 -2.6l-5.9 -1.6l-5.9 -1.3l-5.8 -1l-5.9 -1.5l-5.8 -1.8l-4.2 -1.1l-7.1 -1.5l-12.6 -3.8l-5 -3.1l-6.3 -1.9l-5 1.2l-3.7 -1.8l-3.8 -4.4l-5 -2.5l2.5 1.2l-6.9 -2.4l-13.3 -3.4l-6.7 -3.3l-6.7 -1.7l-6.7 -3.3l-5 -4.2l-5 -2.5l-8.4 0l-8.4 -2.5l-6.7 -3.4l-5 -0.8M622.7 257.2l-1 0l-6.7 4.2l-10.9 -0.3l-8.3 -1.4l-8.4 0.4l-8.4 0.5l-8.3 -0.9l-8.4 1.7l-6.7 2.5l-6.7 0.9l-6.7 -1.7l-6.7 -2.5l-6.7 -0.9l-10 0.9l-10 0.5l-6.7 -1l-6.7 -0.4l-5 2.6l-6.7 2.1l-8.4 -2.1l-6.7 -1.2l-6.7 1.2l-6.7 1.6l-10 0.9l-10 0l-2.8 0.2l-7.3 0.6l-10 1.7l-10.1 4.1l-8.2 1.3l-8.7 1.8l-5.1 3.2l-4.3 8.8l-4.1 5.9l-2.6 2.5l-5.8 2.9l-3.4 0l-3.3 6.2l-0.8 4.3l-4.2 4.2l-4.2 0l-3.3 6.5l-1 4.3l-5.7 2.5l-4.3 0.5l-5.8 -3l-3.3 -2.5l-5.5 1.7l-2.9 -4.6l-4.2 -4.6l-2.1 -0.8l-2.2 1.2l-2.8 5.4l-1.2 -4.1l-3.4 -6.3l-2.6 3.8l-3.7 5l-2.1 4.5l-5 3l-2.5 3.6l-6.7 3.4l-9.9 2.2l-7.5 0.4l-7.5 0.6l-10.1 2.4l-8.2 0.7l-12.5 -1.3l-8.8 -0.6l-7.5 -2.5l-5 -3.8l-3.8 -5l-1.9 -3.1l-1.9 0.6l-2.5 7.5l-2.5 5l-3.7 3.8l-6.3 1.9l-6.3 1.2l-6.3 -1.8l-3.7 -3.2l-3.8 -2.1l-6.3 1.5l-6.2 2.5l-7.6 4.4l-5 0.6l-5 -1.2l-3.8 -3.8l-2.6 -4.9l-0.8 -2.2l-1.7 -5.8l-1.7 -5l-1.6 -5.9l-3.4 -10l-7.5 -15.1l0.4 0.8l-3 -5.7l-0.9 -5l0.2 -5l2.3 -9.1l0.2 -5.8l-0.6 -6.9l-3.1 -5l-5 -3.1l-6.3 -1.9l-6 -2.1" fill="none" stroke="#000" stroke-width="2.08" stroke-linejoin="round" stroke-dasharray="7.7 3.33"/>
<path d="M85.3 271.3l1.6 3.8l1.9 7.5l1.3 9.1l-0.6 -1.7l1.7 5l1.3 5.9l0.4 5.8l0 6.7l0.1 4.6l4.1 -3.1l5.8 -0.8l5 0.6l3.4 3.7l2.5 5.1l4.6 10.5l3 6.2l3.8 6.2l5 3.8l5 1.2l5 -0.6l7.6 -1.9l7.5 -1.5l5 -2.2l3.8 1.5l3.7 2.9l5.1 1.6l6.2 -1l6.3 -1.9l5 -2.5l2.5 -4.4l2.5 -3.8l3.2 1.3l3.1 3.8l5 3.7l6.3 1.9l17.6 1.3l7.5 0.6l6.9 -0.6l10.1 -2.5l10 -0.6l7.5 -1.3l5 -1.9l4.1 2l4.2 -5l9.1 -7.6l4.2 -5l3 -3.3l1.2 2.5l3.4 6.3l2.5 -2.2l6.7 -1.2l13.4 6.7l5 4.2l4.2 0l6.7 0.8l4.2 0l6.7 -1.2l3.3 0l3.8 -5.9l1.2 2.6l4.2 5l1.7 3.7l4.2 5.4l3.4 2.6l2.4 -0.5l2.6 -2.9l3.3 -3.3l3.7 -2.5l9.3 -6.8l-2.5 -11.3l-1.2 -3.8l20.4 -11.6l6 -4l4 -5l6 -4l8 -2l8 2l6 2l6 -4l6 -5l8 -3l8 -1l10 0.6l8 2l4 1.4l-0.8 -0.3l5.6 1.7l6.7 -0.9l6.6 -1.3l6.7 -1.2l13.4 3.4l8.4 0.5l6.7 -1.4l6.7 -3.3l25.1 -5l6.7 0.3l6.7 2.2l6.6 2.5l5.9 1.7l8.4 -5.1l3.9 -0.5M669.3 278.3l0.9 -0.1l5 4.1l6.7 1.2l8.4 -0.7l6.7 0l6.7 2.9l6.7 0.8l10 6.7l6.7 0l6.7 -0.8l6.7 0.5l5 2l5 3.3l5.1 2.5l5 -1.6l5 0l5 2.5l13.4 3.3l6 4.4l5 2.1l5.9 1.6l1 0.2l4.8 0.7l6.7 0.4l5 0.4l10.1 3.4l5 1.2l5 -0.2l5.9 -0.6l5.8 0.4l5 1.7l5.1 0.4l5 -0.8l4.2 0.4l4.2 1.6l5 1.3l4.2 0.7l3.3 0.3l1.7 -1.8l1.2 -4.2l1.3 -5l1.7 -4.6l3.3 -2.1l4.6 -0.9l-2.8 0.5l8.1 -2l8.4 -1.6l8.3 -2.5l8.4 -0.9l8.3 0.9l8.4 2l8.4 3l8.3 4.2l6.7 4.2l6.7 2.5l6.7 -2.5l5 -5.1l6.7 -2.5l6.7 1.2l6.7 2.7l6.7 2.8l6.7 3.4l3.3 1.8l-1.6 -0.9l6.7 5.4l6.7 3.4l6.6 0.8l5.9 -1.3l-3.3 0.8l6.7 -5.3l5 -5l6.7 -5l8.4 -3.4l10 -1.6l10 0l10.1 1.1l10 2.2l10.1 2.8l20 6.1l10.1 2.3l6.7 0.5l6.6 -2.5l5.1 -5l3.3 -5l3.4 -5.9l1.6 -5.8l2.5 -5.1l4.2 -4.1l6.7 -3.4l9.7 -1.5" fill="none" stroke="#000" stroke-width="2.08" stroke-linejoin="round" stroke-dasharray="7.7 3.33"/>
<path d="M85.3 348.9l4.7 -6.2l6.3 -5.1l6.3 -1.2l5 1.9l3.8 4.4l3.7 6.2l3.8 5.1l5 4.3l6.3 3.2l5 0.6l15.1 -3.8l6.2 -1.8l5.1 -2.5l3.7 1.2l3.8 2.8l5 1l6.3 -1l6.3 -1.5l5 -2.5l2.5 -5.1l1.9 -1.8l3.1 3.1l3.8 5l6.2 3.8l8.8 1.9l12.6 0.8l14.4 -0.2l10 0l10 -1l10 -3l8 -4l5.4 -1.5l3.3 -2.1l5 -2.1l2.5 -3.8l3 -1.7l4.6 5.5l2.5 0.4l4.2 -2.9l3.3 -1.7l2.5 0.4l4.2 1.3l5.9 2.9l3.3 2.1l6.7 3.3l4.2 0.9l5.8 2.1l4.2 0.4l5 0.8l5.9 -0.8l2.5 -0.8l9 5.8l8 4l8 1l5 -4l3 -3l6.7 -6l5 -1.7l5 -7.5l5.1 -1.8l3.2 1l6.8 -5l13.4 -6.8l5 0.8l5 5l5.1 3.4l8.3 3.4l8.4 3.2l8.3 1l8.4 3.3l6.7 2.5l5 2l-0.8 -7l-2.6 -10.1l-1.6 -10l-5.9 -11.7l0 -4l0 2l15.9 3.1l8.4 -1.1l8.4 -1.7l6.7 -0.5l15 3.8l6.7 -0.5l6.7 -2.5l8.4 -2.5l6.7 -2.5l8.3 -0.5l10.1 0.2l8.3 0.3l6.7 1.7l4.2 2.5l8.4 0l3.9 -0.8M669.3 306l0.9 -0.2l5 0l5.1 4.1l5 1.4l8.4 -1l8.3 0.5l6.7 0.8l5 1.7l5 2.5l6.7 0.8l6.7 -1.6l6.7 -0.4l6.7 1.2l6.7 1.7l6.7 0.8l6.7 -1.7l5 1.4l6.7 2l6.7 1.3l6.7 0.4l8.3 0l21.8 4.3l-1.7 -0.3l6.7 2.3l4.2 1.4l10 2l10.1 1.2l10 0l10.1 1.7l8.3 3.3l6.7 3.4l16.7 5l6.7 -0.5l6.7 -2l1.7 -0.9l5 -2.5l5 -5l5.1 -4.2l6.6 -3.3l8.4 -2.2l6.7 -0.7l6.7 2l6.7 4.2l6.7 2.2l6.7 -1.4l13.4 -5l6.6 -1.6l6.7 0.3l6.7 2.2l13.4 8.3l6.7 3.4l6.7 1.1l9.2 -1.1l-1.8 0.2l8.5 -4.4l16.8 -6.7l10 -3l10 -2l10.1 -0.8l10 0.8l10.1 2l18.4 5.6l6.6 3.3l6.7 2.8l6.7 0.5l8.4 -1.6l6.7 -3.4l6.7 -4.2l6.7 -5.8l6.7 -5l6.3 -3.4" fill="none" stroke="#000" stroke-width="2.08" stroke-linejoin="round" stroke-dasharray="7.7 3.33"/>
<path d="M85.3 368.8l4.7 -3.7l6.3 -4.4l6.3 -1.7l5 2.9l5 5.7l5 4.4l6.3 3.1l6.3 0.6l6.3 -2.5l6.2 -3.1l7.6 -2.5l7.5 -1.9l3.8 -1.3l3.7 1.7l5 0.8l7.6 -0.6l7.5 -1.2l3.8 -2.6l3.7 -3.7l1.9 -0.6l3.1 4.3l5.1 6.3l7.5 3.8l7.5 2.5l10.1 1.5l8.7 0l8.2 -0.9l-5.4 0.6l10.4 1.7l10 0l10 -1l10 -2l6 -6l6 -7l6 -6l4 0l9 9l3 -6l6 -3l6 3l8 5l8 3l8 2l3.6 0.4l4.4 0.6l8 0l6 5l8.9 6.6l-1.9 -2.1l7.6 8.5l5.7 6.7l2.4 5.7l1.9 -5.7l1.4 -5.7l1.9 -1.4l7.6 -0.5l3.8 -1.9l4.7 -11.4l-1.4 3.4l3.8 -7.3l3.4 -2.5l15 -1.2l10.1 0l8.3 -1.7l6.7 2.9l6.7 2.5l10.1 -0.9l8.3 1.7l8.4 5l13.4 10.1l6.7 3.8l6.6 0.3l8.4 -2.5l6.7 -4.2l5 -5l3.4 -6.7l-0.9 -8.3l-2.5 -8.4l-0.8 -5l3.3 -4.2l5.9 -2.2l16.7 -0.6l8.4 -0.5l6.7 -2.6l8.3 -0.8l10.1 -0.5l8.3 1l5.9 2l6.7 3.4l5 -0.4l2 -0.3M663.8 339.4l3.9 -0.5l5.9 -1.7l5 -0.5l5 3l5 1.4l6.7 -0.5l6.7 -1.2l5 1.2l5.1 2.5l6.6 0.8l6.7 -1.1l5.1 -1l5 1.6l6.7 -0.3l6.7 -2l13.3 -3.4l6.7 1.7l6.7 2.9l6.7 2.1l6.7 1.2l5 2.5l5 1.7l6.7 -1.7l6.7 -1.3l6.7 -0.4l6.7 -2l4.2 -2.1l6.7 2l8.4 3.3l8.3 2.2l10.1 0l10 0.7l8.4 1.3l16.7 6.7l6.7 0.9l6.7 -0.9l6.7 1.7l8.3 2.5l16.8 3.3l6.7 0.9l2.5 5l2.5 4.2l5 1.7l4.2 -1.7l0 -7.5l-1.7 -6.7l2.5 -3l8.4 -0.7l8.3 -1.7l8.4 -3l6.7 -2l6.7 -0.5l6.7 0.8l6.7 2l6.7 3l6.7 2.1l6.7 0.5l6.6 -0.9l5.9 -1.7l-1.7 0.5l8.4 -4.6l8.4 -2.8l8.4 -3.1l8.3 -1.3l11.7 -0.7l10.1 0l8.3 0.7l8.4 2.2l6.7 3.3l6.7 2.9l8.4 1.6l10 1l10 0.4l10.1 -0.4l6.7 -1l6.7 -2.3l6.6 -3l6.7 -2.5l4.7 -1.2" fill="none" stroke="#000" stroke-width="2.08" stroke-linejoin="round" stroke-dasharray="7.7 3.33"/>
<path d="M85.3 401.4l4.7 -5l6.3 -5.6l6.3 -2.2l5 1.3l7.5 4l6.3 2.5l3.8 1l12.5 -7.2l5 -6.3l5.1 -4.4l6.2 -3.8l3.8 1.3l3.8 3.1l3.7 1l8.8 -5.1l5 1l5 -1.3l3.8 -4.4l3.1 -2.5l3.2 1.3l2.5 5l3.8 5l5 3.8l5 1.9l5 0.6l6.3 2.5l6.3 1.5l6.2 -0.2l6.3 1.2l4.4 1.3l9 3.3l6 7l5 9l3 1l4 -5l16 -24l4 -3l3 -8l4 -4.4l4 0.8l5 5.6l6 7l6 -4l4 3l6 6l5 6l3 -5l6 -1l6 1.6l6 -0.6l4 2l6 -6l4 -2l5 2l5 5l4.5 7.8M401.2 400.1l1.6 -3.5l-1.9 -1.9l3.8 3.8l1.4 2.4M408.5 401.7l1.9 -3.2l3.8 -6.6l5.9 -8.8l4.2 5l4.2 -2.5l6.7 -2.5l5 2.5l5 3.3l6.7 0.5l6.7 -1.7l5 2.9l5 4.2l6.7 5l5 8.4l5 -2.6l6.7 -1.6l6.7 2.5l6.7 3.3l6.7 0.9l6.7 0l13.4 -3.4l5.8 -2.2l0.9 -0.3l6.7 -4.2l6.7 -5l6.7 -4.2l3.3 -5l3.3 -6.7l5.1 -3.7l8.3 -0.5l16.8 -3.3l10 -0.5l8.3 -0.3M662.8 370.9l5.8 1.5l6.6 -1.2l6.7 -0.5l6.7 2.5l6.7 0.8l6.7 1.7l8.4 0.9l6.7 -1.7l5 -0.9l5 -4.1l3.4 -3l4.1 3.8l4.2 5.9l3.4 -1.7l3.3 -5.9l5 -2.5l5.1 2.5l5 3.4l3.3 0.8l3.4 -2.5l6.7 0l6.6 0.8l13.4 5.1l25.1 -2.6l6.7 -1.6l4.2 -3.4l5 -1.3l5 0.9l5.1 2.5l5 2.1l5 -1.3l5 -0.3l8.4 3.3l6.7 -1.3l8.3 -0.9l10.1 0l8.3 0.9l5.1 1.6l5 3.4l6.7 1.3l16.7 2.4l6.7 1.3l20.1 7.5l8.3 1.7l6.7 0.9l6.7 1.6l6.7 2l4.2 -1.1l2.5 -4.2l2.5 -3.4l4.2 -1.6l6.7 -0.9l8.3 -0.5l8.4 -0.3l16.7 -3.4l12.6 -1.9l6.7 -1.6l6.7 -2.4l4.2 0l3.3 3.7l3.4 5l4.2 3.7l6.7 1.7l8.3 1l10.1 0.8l10 0l10 0.4l8.4 0.8l8.4 1.7l10 1.3l10 1.2l6.7 -0.5l6.7 -2l6.7 -2.5l11.7 -5.1l4.7 -2.5" fill="none" stroke="#000" stroke-width="2.08" stroke-linejoin="round"/>
<path d="M1203.6 418.5l-6.3 1.7l-5.1 1.7l-5 3l-5 2.5l-6.7 0.5l-8.4 0.3l-8.3 0.9l-8.4 -0.5l-8.3 -1.2l-16.8 -5l-8.3 -1.7l-10.1 -0.8l-10 0l-10.1 0.3l-10 0.5l-10 -0.5l-10.1 0l-10 0.3l3.3 -0.6l-4.2 0.8l-6.7 1.7l-5.8 3.3l-4.2 5l-5 1.7l-6.7 -1.2l-8.4 -2.1l-8.4 -1.7l-7.5 -0.8l-4.2 -2.6l-10 -8.3l-5 -2.2l-3.4 1.3l-5 3.7l-8.4 1.4l-8.3 0.8l-10.1 -6.7l-6.6 -1.7l-18.4 -2.5l-8.4 -1.6l-8.4 -2.6l-10 -2.1l-8.4 -2l-6.7 -2.5l-8.3 2.5l-8.4 0.8l-8.4 -1.7l-6.7 -0.8l-3.3 5l-3.4 8.4l-3.3 2.5l-7.5 -0.9l-6.7 -1.6l-6.7 -3.4l-6.7 -1.6l-6.7 -0.9l-5 1.7l-6.7 0.5l-6.7 1.2l-5.9 2.1l-4.1 -1l-6.7 -2.8l-5 -4.2l-4.2 -7l-4.2 -2.2l-10.1 8.4l-3.3 3.3l-5 -9.2l-3.4 -2.5l-5 8.4l-10 -3.4l-4.2 9.2l-3.3 2.5l-4.2 -1.6l-5 -4.2l-5.1 -2.5l-8.3 0.5l-6.7 1.1l-10.1 5.1l-1.9 -0.3M630.4 407l-2 -0.2l-13.4 0.5l-9.2 1.7l-13.4 6.7l-6.7 -0.9l-6.7 -2l-6.7 -2.1l-5 4.1l-5 3.4l-6.7 2.5l-6.7 0.8l-6.7 2.5l-6.7 0.9l-8.3 1.7l-6.7 5l-2.9 3.9M497.3 419.7l-1.1 -1.5l-2.5 -1.7l-5 0.9l-4.2 0.8l-2.5 5l-3.3 9.2l-4.2 5.9l-1.7 8l-5 0l-0.9 -4.7l-0.4 -0.8M455 411.6l-0.6 -1.8l-2.5 -2.5l-6.7 -1.7l-10 -3.3l-5.1 1.7l-3.3 5.8l-2.5 13.4l-4.2 -9.2l-5 7.5l-5 15.1l-6.7 -5.9l-5.1 -4.1l-3.3 5l-2 12.4l-4 2l-3 -3l-4 -8l-4 -10l-6 -4l-3 -8l-2 -9.6l-4 0.6l-3 9l-5 -1l-4 -6l-5 1.4l-6 3.6l-5 1l-4 -9l-5 -2l-6 2l-5 0l-5 -5l-5 -3l-5 0.4l-6 2.6l-12 8l-4 9l-10 14l-5 8l-5 3.6l-5 -2.6l-5 -7l-3.8 -9.9l0.8 1.5l-1.9 -3.7l-3.7 -6.3l-3.8 -3.8l-5 -2.2l-5 1l-5.1 1.2l-5 -1l-5 -2.7l-5 -3.8l-3.8 -4.4l-3.8 -2.5l-4.3 -2.1l-3.8 4l-2.5 11.3l-1.9 10l-3.8 -6.9l-3.7 -5l-3.8 3.1l-3.8 -1.9l-5 -3.1l-5 -1.5l-5 2.8l-5 6.2l-5.1 5l-2.5 3.8l-0.6 6.3l-1.9 1.2l-5 0.7l-15 -3.8l-7.6 -0.9l-7.5 3.4l-15.1 -1.9l-4.7 2.5" fill="none" stroke="#000" stroke-width="2.08" stroke-linejoin="round"/>
<path d="M85.3 438.1l7.2 -1l7.6 0.3l7.5 0.9l7.5 -0.2l7.6 1.8l7.5 0.5l7.5 -0.2l10.1 0.6l5 0l3.7 -2.5l6.3 -1.9l7.5 -1.5l5.1 -1.2l3.7 0.8l3.8 1.9l4.4 1.5M882.7 430.2l6.7 8.1l0.8 3.3" fill="none" stroke="#000" stroke-width="2.08" stroke-linejoin="round"/>
<text class="c" x="650.2" y="177.9" text-anchor="middle" dominant-baseline="central" transform="rotate(-22 650.2 177.9)">-40.0</text>
<text class="c" x="643.9" y="200.7" text-anchor="middle" dominant-baseline="central" transform="rotate(0 643.9 200.7)">-35.0</text>
<text class="c" x="646.4" y="234.2" text-anchor="middle" dominant-baseline="central" transform="rotate(0 646.4 234.2)">-25.0</text>
<text class="c" x="644.3" y="259.4" text-anchor="middle" dominant-baseline="central" transform="rotate(-5 644.3 259.4)">-20.0</text>
<text class="c" x="648.5" y="283.5" text-anchor="middle" dominant-baseline="central" transform="rotate(-8 648.5 283.5)">-15.0</text>
<text class="c" x="648.5" y="310.8" text-anchor="middle" dominant-baseline="central" transform="rotate(-5 648.5 310.8)">-10.0</text>
<text class="c" x="646" y="340.1" text-anchor="middle" dominant-baseline="central" transform="rotate(-3 646 340.1)">-5.0</text>
<text class="c" x="629.2" y="374" text-anchor="middle" dominant-baseline="central" transform="rotate(0 629.2 374)">0.0</text>
<text class="c" x="647.1" y="374.9" text-anchor="middle" dominant-baseline="central" transform="rotate(0 647.1 374.9)">0.0</text>
<text class="c" x="646" y="408.2" text-anchor="middle" dominant-baseline="central" transform="rotate(0 646 408.2)">5.0</text>
<text class="c" x="131" y="283" text-anchor="middle" dominant-baseline="central" transform="rotate(0 131 283)">-35.0</text>
<text class="c" x="737.8" y="234" text-anchor="middle" dominant-baseline="central" transform="rotate(85 737.8 234)">-35.0</text>
<text class="c" x="751.5" y="251" text-anchor="middle" dominant-baseline="central" transform="rotate(70 751.5 251)">-35.0</text>
<text class="c" x="1047.1" y="241.4" text-anchor="middle" dominant-baseline="central" transform="rotate(-86 1047.1 241.4)">-30.0</text>
<text class="c" x="392" y="406.6" text-anchor="middle" dominant-baseline="central" transform="rotate(10 392 406.6)">0.0</text>
<text class="c" x="461.9" y="425.7" text-anchor="middle" dominant-baseline="central" transform="rotate(70 461.9 425.7)">5.0</text>
<text class="c" x="506.3" y="432.4" text-anchor="middle" dominant-baseline="central" transform="rotate(60 506.3 432.4)">5.0</text>
<text class="c" x="201" y="435" text-anchor="middle" dominant-baseline="central" transform="rotate(45 201 435)">10.0</text>
<text class="c" x="710.3" y="439.8" text-anchor="middle" dominant-baseline="central" transform="rotate(-40 710.3 439.8)">10.0</text>
<text class="c" x="748.5" y="440.5" text-anchor="middle" dominant-baseline="central" transform="rotate(-10 748.5 440.5)">10.0</text>
<text class="c" x="800" y="441" text-anchor="middle" dominant-baseline="central" transform="rotate(-15 800 441)">10.0</text>
<text class="c" x="831" y="442" text-anchor="middle" dominant-baseline="central" transform="rotate(0 831 442)">10.0</text>
<text class="c" x="861.5" y="435.5" text-anchor="middle" dominant-baseline="central" transform="rotate(-30 861.5 435.5)">10.0</text>
<path d="M154 447l0 -1l6.3 -2l7.5 -2.6l7.6 -1.8l5 1.2l6.3 1.9l6.2 -1l7.6 -0.3l5 1l5 -1l5 -1.8l6.3 -1.5l6.3 2.1l8.7 2.5l8.2 1.9l31 1.4l10 -5l6 -1.6l8 1.6l10 2l10 -1l8 -1.4l8 -1.6l8 2.4l10 -2.4l10 0.4l12 1.2l8 1.4l8 2l8 -1l10 -1l10 1l12 1l18 0.6l16 -0.6l7.3 0.6l5.4 -0.5l6.6 -5l6.7 -4.2l5.1 1.7l5 3.3l6.7 1.7l5 0.8l5 -2.5l6.7 -3.3l6.7 -3.4l5 -0.8l5 4.2l5 3.3l5.1 -5l5 -3.3l5 3.3l5 1.7l6.7 -4.2l3.4 -0.8l6.6 3.3l6.7 3.4l6.7 1.6l5.1 -5l5 -6.7l2.9 -4.2l3.8 -0.8l4.2 4.2l8.3 4.2l8.4 4.2l6.7 2.5l6.7 -2l6.7 -2.2l5 0.8l5 1.7l6.7 -5l5.9 -3l5.8 3.8l6.7 4.2l6.7 3.3l6.7 2.5l6.7 0.9l6.7 -2.5l8.3 -3.4l8.4 -1.6l6.7 -0.9l3.3 -0.8l3.4 1.7l3.3 4.1l3.4 4.2l2.5 1.9l73.6 -1l10 -0.9l10.1 -1.7l5 -2.5l5 -4.1l3.4 -0.9l3.3 3.4l5 3.3l5 -1.7l3.4 -1.6l5 1.6l5 1.7l6.7 -1.3l8.4 1l8.4 -0.5l10 1.6l10 0.9l6.7 1.7l5 1l0 1z" fill="#000"/>
<path d="M93.1 81.4l-4.9 0l1.1 2.2l-11.2 -3.4l11.2 -3.3l-1.1 2.2l4.9 0zM144.5 81.4l-2.9 0l1.1 2.2l-11.2 -3.4l11.2 -3.3l-1.1 2.2l2.9 0zM198.4 81.4l-5.9 0l1.1 2.2l-11.2 -3.4l11.2 -3.3l-1.1 2.2l5.9 0zM250.9 81.4l-6 0l1.1 2.2l-11.1 -3.4l11.1 -3.3l-1.1 2.2l6 0zM302.8 81.4l-5 0l1.2 2.2l-11.2 -3.4l11.2 -3.3l-1.2 2.2l5 0zM354.7 81.4l-3.9 0l1.1 2.2l-11.2 -3.4l11.2 -3.3l-1.1 2.2l3.9 0zM405.6 81.3l-1.1 0l1.1 2.2l-11 -3.4l11 -3.2l-1.1 2.2l1.1 0zM456.4 81l-0.7 0l0.7 1.6l-7.8 -2.4l7.8 -2.3l-0.7 1.6l0.7 0zM508 80.8l-0.6 0l0.6 1.2l-6 -1.8l6 -1.8l-0.6 1.2l0.6 0zM559.1 80.6l-0.3 0l0.3 0.7l-3.5 -1.1l3.5 -1l-0.3 0.7l0.3 0zM611.1 80.5l-0.3 0l0.3 0.5l-2.5 -0.8l2.5 -0.7l-0.3 0.5l0.3 0zM663.3 80.2l-0.5 1l-1.1 0l-0.6 -1l0.6 -0.9l1.1 0zM715.8 80.2l-0.6 1l-1.1 0l-0.6 -1l0.6 -0.9l1.1 0zM768.2 80.2l-0.6 1l-1.1 0l-0.6 -1l0.6 -0.9l1.1 0zM820.6 80.2l-0.6 1l-1.1 0l-0.5 -1l0.5 -0.9l1.1 0zM873 80.2l-0.5 1l-1.2 0l-0.5 -1l0.5 -0.9l1.2 0zM923.1 80.5l0.2 0l-0.2 0.5l2.5 -0.8l-2.5 -0.7l0.2 0.5l-0.2 0zM975.5 80.5l0.2 0l-0.2 0.5l2.5 -0.8l-2.5 -0.7l0.2 0.5l-0.2 0zM1027.4 80.6l0.4 0l-0.4 0.7l3.5 -1.1l-3.5 -1l0.4 0.7l-0.4 0zM1079.3 80.7l0.5 0l-0.5 0.9l4.5 -1.4l-4.5 -1.3l0.5 0.9l-0.5 0zM1131.2 80.8l0.6 0l-0.6 1.1l5.6 -1.7l-5.6 -1.6l0.6 1.1l-0.6 0zM1183.4 80.8l0.6 0l-0.6 1.2l6 -1.8l-6 -1.8l0.6 1.2l-0.6 0zM93.6 100.6l-5.9 0l1.1 2.3l-11.2 -3.4l11.2 -3.4l-1.1 2.3l5.9 0zM145 100.6l-3.9 0l1.1 2.3l-11.2 -3.4l11.2 -3.4l-1.1 2.3l3.9 0zM198.4 100.6l-5.9 0l1.1 2.3l-11.2 -3.4l11.2 -3.4l-1.1 2.3l5.9 0zM250.9 100.6l-6 0l1.1 2.3l-11.1 -3.4l11.1 -3.4l-1.1 2.3l6 0zM302.8 100.6l-5 0l1.2 2.3l-11.2 -3.4l11.2 -3.4l-1.2 2.3l5 0zM354.7 100.6l-3.9 0l1.1 2.3l-11.2 -3.4l11.2 -3.4l-1.1 2.3l3.9 0zM405.6 100.6l-1.1 0l1.1 2.2l-11 -3.3l11 -3.3l-1.1 2.2l1.1 0zM456.5 100.3l-0.8 0l0.8 1.6l-8 -2.4l8 -2.4l-0.8 1.6l0.8 0zM508 100.1l-0.6 0l0.6 1.2l-6 -1.8l6 -1.8l-0.6 1.2l0.6 0zM559.4 99.9l-0.4 0l0.4 0.8l-4 -1.2l4 -1.2l-0.4 0.8l0.4 0zM611.3 99.8l-0.3 0l0.3 0.6l-3 -0.9l3 -0.9l-0.3 0.6l0.3 0zM663.3 99.5l-0.5 1l-1.1 0l-0.6 -1l0.6 -1l1.1 0zM715.8 99.5l-0.6 1l-1.1 0l-0.6 -1l0.6 -1l1.1 0zM768.2 99.5l-0.6 1l-1.1 0l-0.6 -1l0.6 -1l1.1 0zM820.6 99.5l-0.6 1l-1.1 0l-0.5 -1l0.5 -1l1.1 0zM870.7 99.8l0.3 0l-0.3 0.4l2.6 -0.7l-2.6 -0.7l0.3 0.4l-0.3 0zM922.8 99.8l0.3 0l-0.3 0.6l3 -0.9l-3 -0.9l0.3 0.6l-0.3 0zM974.7 99.9l0.4 0l-0.4 0.8l4 -1.2l-4 -1.2l0.4 0.8l-0.4 0zM1026.7 100l0.5 0l-0.5 1l5 -1.5l-5 -1.5l0.5 1l-0.5 0zM1078.6 100.1l0.6 0l-0.6 1.2l6 -1.8l-6 -1.8l0.6 1.2l-0.6 0zM1130.8 100.2l0.6 0l-0.6 1.2l6.4 -1.9l-6.4 -1.9l0.6 1.2l-0.6 0zM1182.9 100.2l0.7 0l-0.7 1.4l7 -2.1l-7 -2.1l0.7 1.4l-0.7 0zM93.6 119.9l-5.9 0l1.1 2.2l-11.2 -3.3l11.2 -3.4l-1.1 2.2l5.9 0zM145 119.9l-3.9 0l1.1 2.2l-11.2 -3.3l11.2 -3.4l-1.1 2.2l3.9 0zM198.4 119.9l-5.9 0l1.1 2.2l-11.2 -3.3l11.2 -3.4l-1.1 2.2l5.9 0zM250.9 119.9l-6 0l1.1 2.2l-11.1 -3.3l11.1 -3.4l-1.1 2.2l6 0zM303.3 119.9l-6 0l1.2 2.2l-11.2 -3.3l11.2 -3.4l-1.2 2.2l6 0zM354.7 119.9l-3.9 0l1.1 2.2l-11.2 -3.3l11.2 -3.4l-1.1 2.2l3.9 0zM405.1 119.8l-1 0l1 2l-10 -3l10 -3l-1 2l1 0zM456 119.5l-0.7 0l0.7 1.4l-7 -2l7 -2.2l-0.7 1.4l0.7 0zM508 119.3l-0.6 0l0.6 1.2l-6 -1.8l6 -1.8l-0.6 1.2l0.6 0zM560.1 119.3l-0.5 0l0.5 1.1l-5.5 -1.6l5.5 -1.7l-0.5 1.1l0.5 0zM611.8 119.2l-0.4 0l0.4 0.8l-4 -1.2l4 -1.2l-0.4 0.8l0.4 0zM663.5 119l-0.3 0l0.3 0.5l-2.5 -0.7l2.5 -0.8l-0.3 0.5l0.3 0zM715.8 118.8l-0.6 0.9l-1.1 0l-0.6 -0.9l0.6 -1l1.1 0zM768.2 118.8l-0.6 0.9l-1.1 0l-0.6 -0.9l0.6 -1l1.1 0zM820.6 118.8l-0.6 0.9l-1.1 0l-0.5 -0.9l0.5 -1l1.1 0zM870.4 119l0.3 0l-0.3 0.6l3 -0.8l-3 -1l0.3 0.6l-0.3 0zM922.3 119.2l0.4 0l-0.4 0.8l4 -1.2l-4 -1.2l0.4 0.8l-0.4 0zM973.7 119.3l0.6 0l-0.6 1.2l6 -1.8l-6 -1.8l0.6 1.2l-0.6 0zM1025.7 119.5l0.7 0l-0.7 1.4l7 -2l-7 -2.2l0.7 1.4l-0.7 0zM1077.8 119.5l0.8 0l-0.8 1.5l7.5 -2.2l-7.5 -2.3l0.8 1.5l-0.8 0zM1130.2 119.5l0.8 0l-0.8 1.5l7.6 -2.2l-7.6 -2.3l0.8 1.5l-0.8 0zM1182.4 119.5l0.8 0l-0.8 1.6l8 -2.4l-8 -2.4l0.8 1.6l-0.8 0zM93.1 139.1l-4.9 0l1.1 2.3l-11.2 -3.4l11.2 -3.4l-1.1 2.3l4.9 0zM145 139.1l-3.9 0l1.1 2.3l-11.2 -3.4l11.2 -3.4l-1.1 2.3l3.9 0zM197.9 139.1l-4.9 0l1.1 2.3l-11.2 -3.4l11.2 -3.4l-1.1 2.3l4.9 0zM250.4 139.1l-5 0l1.1 2.3l-11.1 -3.4l11.1 -3.4l-1.1 2.3l5 0zM302.8 139.1l-5 0l1.2 2.3l-11.2 -3.4l11.2 -3.4l-1.2 2.3l5 0zM354.7 139.1l-3.9 0l1.1 2.3l-11.2 -3.4l11.2 -3.4l-1.1 2.3l3.9 0zM405.1 139l-1 0l1 2l-10 -3l10 -3l-1 2l1 0zM456 138.7l-0.7 0l0.7 1.4l-7 -2.1l7 -2.1l-0.7 1.4l0.7 0zM508 138.6l-0.6 0l0.6 1.2l-6 -1.8l6 -1.8l-0.6 1.2l0.6 0zM559.9 138.5l-0.5 0l0.5 1l-5 -1.5l5 -1.5l-0.5 1l0.5 0zM611.8 138.4l-0.4 0l0.4 0.8l-4 -1.2l4 -1.2l-0.4 0.8l0.4 0zM663.7 138.3l-0.3 0l0.3 0.6l-3 -0.9l3 -0.9l-0.3 0.6l0.3 0zM715.8 138l-0.6 1l-1.1 0l-0.6 -1l0.6 -1l1.1 0zM768.2 138l-0.6 1l-1.1 0l-0.6 -1l0.6 -1l1.1 0zM820.6 138l-0.6 1l-1.1 0l-0.5 -1l0.5 -1l1.1 0zM870.4 138.3l0.3 0l-0.3 0.6l3 -0.9l-3 -0.9l0.3 0.6l-0.3 0zM922.3 138.4l0.4 0l-0.4 0.8l4 -1.2l-4 -1.2l0.4 0.8l-0.4 0zM974 138.6l0.5 0l-0.5 1l5.5 -1.6l-5.5 -1.6l0.5 1l-0.5 0zM1025.9 138.7l0.7 0l-0.7 1.4l6.5 -2l-6.5 -2l0.7 1.4l-0.7 0zM1078.1 138.7l0.7 0l-0.7 1.4l7 -2.1l-7 -2.1l0.7 1.4l-0.7 0zM1130.2 138.8l0.8 0l-0.8 1.4l7.6 -2.2l-7.6 -2.2l0.8 1.4l-0.8 0zM1182.4 138.8l0.8 0l-0.8 1.6l8 -2.4l-8 -2.4l0.8 1.6l-0.8 0zM91.6 158.4l-1.9 0l1.1 2.2l-11.2 -3.4l11.2 -3.3l-1.1 2.2l1.9 0zM144.5 158.4l-2.9 0l1.1 2.2l-11.2 -3.4l11.2 -3.3l-1.1 2.2l2.9 0zM197.4 158.4l-3.9 0l1.1 2.2l-11.2 -3.4l11.2 -3.3l-1.1 2.2l3.9 0zM249.9 158.4l-4 0l1.1 2.2l-11.1 -3.4l11.1 -3.3l-1.1 2.2l4 0zM302.8 158.4l-5 0l1.2 2.2l-11.2 -3.4l11.2 -3.3l-1.2 2.2l5 0zM353.7 158.4l-1.9 0l1.1 2.2l-11.2 -3.4l11.2 -3.3l-1.1 2.2l1.9 0zM404.6 158.2l-0.9 0l0.9 1.8l-9 -2.8l9 -2.6l-0.9 1.8l0.9 0zM456 157.9l-0.7 0l0.7 1.4l-7 -2.2l7 -2l-0.7 1.4l0.7 0zM508.2 157.9l-0.6 0l0.6 1.3l-6.5 -2l6.5 -1.9l-0.6 1.3l0.6 0zM559.9 157.8l-0.5 0l0.5 1l-5 -1.6l5 -1.4l-0.5 1l0.5 0zM612.1 157.7l-0.5 0l0.5 0.9l-4.5 -1.4l4.5 -1.3l-0.5 0.9l0.5 0zM664.2 157.7l-0.4 0l0.4 0.8l-4 -1.2l4 -1.2l-0.4 0.8l0.4 0zM716.1 157.6l-0.3 0l0.3 0.6l-3 -1l3 -0.8l-0.3 0.6l0.3 0zM768.2 157.2l-0.6 1l-1.1 0l-0.6 -1l0.6 -0.9l1.1 0zM820.6 157.2l-0.6 1l-1.1 0l-0.5 -1l0.5 -0.9l1.1 0zM870.4 157.6l0.3 0l-0.3 0.6l3 -1l-3 -0.8l0.3 0.6l-0.3 0zM922.1 157.7l0.4 0l-0.4 0.9l4.5 -1.4l-4.5 -1.3l0.4 0.9l-0.4 0zM973.5 157.9l0.6 0l-0.6 1.3l6.5 -2l-6.5 -1.9l0.6 1.3l-0.6 0zM1026.2 157.8l0.6 0l-0.6 1.2l6 -1.8l-6 -1.8l0.6 1.2l-0.6 0zM1078.1 157.9l0.7 0l-0.7 1.4l7 -2.2l-7 -2l0.7 1.4l-0.7 0zM1130 158.1l0.8 0l-0.8 1.6l8 -2.4l-8 -2.4l0.8 1.6l-0.8 0zM1182.4 158.1l0.8 0l-0.8 1.6l8 -2.4l-8 -2.4l0.8 1.6l-0.8 0zM91.1 177.6l-1.1 0l1.1 2.2l-11 -3.3l11 -3.3l-1.1 2.2l1.1 0zM143.5 177.6l-1.1 0l1.1 2.2l-11 -3.3l11 -3.3l-1.1 2.2l1.1 0zM196.4 177.6l-1.9 0l1.1 2.3l-11.2 -3.4l11.2 -3.4l-1.1 2.3l1.9 0zM248.9 177.6l-2 0l1.1 2.3l-11.1 -3.4l11.1 -3.4l-1.1 2.3l2 0zM301.3 177.6l-2 0l1.2 2.3l-11.2 -3.4l11.2 -3.4l-1.2 2.3l2 0zM353.2 177.6l-1.1 0l1.1 2.2l-11 -3.3l11 -3.3l-1.1 2.2l1.1 0zM404.6 177.4l-0.9 0l0.9 1.8l-9 -2.7l9 -2.7l-0.9 1.8l0.9 0zM456 177.2l-0.7 0l0.7 1.4l-7 -2.1l7 -2.1l-0.7 1.4l0.7 0zM508 177.1l-0.6 0l0.6 1.2l-6 -1.8l6 -1.8l-0.6 1.2l0.6 0zM559.9 177l-0.5 0l0.5 1l-5 -1.5l5 -1.5l-0.5 1l0.5 0zM611.8 176.9l-0.4 0l0.4 0.8l-4 -1.2l4 -1.2l-0.4 0.8l0.4 0zM663.7 176.8l-0.3 0l0.3 0.6l-3 -0.9l3 -0.9l-0.3 0.6l0.3 0zM715.9 176.8l-0.3 0l0.3 0.4l-2.5 -0.7l2.5 -0.7l-0.3 0.4l0.3 0zM768.2 176.5l-0.6 1l-1.1 0l-0.6 -1l0.6 -1l1.1 0zM820.6 176.5l-0.6 1l-1.1 0l-0.5 -1l0.5 -1l1.1 0zM870.4 176.8l0.3 0l-0.3 0.6l3 -0.9l-3 -0.9l0.3 0.6l-0.3 0zM922.3 176.9l0.4 0l-0.4 0.8l4 -1.2l-4 -1.2l0.4 0.8l-0.4 0zM974.2 177l0.5 0l-0.5 1l5 -1.5l-5 -1.5l0.5 1l-0.5 0zM1026.2 177.1l0.6 0l-0.6 1.2l6 -1.8l-6 -1.8l0.6 1.2l-0.6 0zM1078.3 177.2l0.7 0l-0.7 1.2l6.5 -1.9l-6.5 -1.9l0.7 1.2l-0.7 0zM1130.2 177.2l0.8 0l-0.8 1.6l7.6 -2.3l-7.6 -2.3l0.8 1.6l-0.8 0zM1182.4 177.3l0.8 0l-0.8 1.6l8 -2.4l-8 -2.4l0.8 1.6l-0.8 0zM90.1 196.7l-0.9 0l0.9 1.8l-9 -2.6l9 -2.8l-0.9 1.8l0.9 0zM143 196.8l-1 0l1 2l-10 -3l10 -3l-1 2l1 0zM195.9 196.8l-1.1 0l1.1 2.2l-11 -3.2l11 -3.4l-1.1 2.2l1.1 0zM248.1 196.8l-1 0l1 2.1l-10.5 -3.1l10.5 -3.2l-1 2.1l1 0zM300.8 196.8l-1.1 0l1.1 2.2l-11 -3.2l11 -3.4l-1.1 2.2l1.1 0zM353.2 196.8l-1.1 0l1.1 2.2l-11 -3.2l11 -3.4l-1.1 2.2l1.1 0zM405.6 196.8l-1.1 0l1.1 2.2l-11 -3.2l11 -3.4l-1.1 2.2l1.1 0zM456 196.4l-0.7 0l0.7 1.4l-7 -2l7 -2.2l-0.7 1.4l0.7 0zM508 196.3l-0.6 0l0.6 1.2l-6 -1.8l6 -1.8l-0.6 1.2l0.6 0zM559.4 196.2l-0.4 0l0.4 0.8l-4 -1.2l4 -1.2l-0.4 0.8l0.4 0zM611.3 196.1l-0.3 0l0.3 0.6l-3 -0.8l3 -1l-0.3 0.6l0.3 0zM663.3 195.8l-0.5 0.9l-1.1 0l-0.6 -0.9l0.6 -1l1.1 0zM715.8 195.8l-0.6 0.9l-1.1 0l-0.6 -0.9l0.6 -1l1.1 0zM768.2 195.8l-0.6 0.9l-1.1 0l-0.6 -0.9l0.6 -1l1.1 0zM820.6 195.8l-0.6 0.9l-1.1 0l-0.5 -0.9l0.5 -1l1.1 0zM873 195.8l-0.5 0.9l-1.2 0l-0.5 -0.9l0.5 -1l1.2 0zM923.1 196l0.2 0l-0.2 0.5l2.5 -0.7l-2.5 -0.8l0.2 0.5l-0.2 0zM974.7 196.2l0.4 0l-0.4 0.8l4 -1.2l-4 -1.2l0.4 0.8l-0.4 0zM1026.9 196.2l0.5 0l-0.5 0.9l4.5 -1.3l-4.5 -1.4l0.5 0.9l-0.5 0zM1078.6 196.3l0.6 0l-0.6 1.2l6 -1.8l-6 -1.8l0.6 1.2l-0.6 0zM1130.5 196.4l0.7 0l-0.7 1.4l7 -2l-7 -2.2l0.7 1.4l-0.7 0zM1182.7 196.5l0.7 0l-0.7 1.5l7.5 -2.2l-7.5 -2.3l0.7 1.5l-0.7 0zM90.6 216l-1 0l1 2l-10 -3l10 -3l-1 2l1 0zM142 215.8l-0.8 0l0.8 1.6l-8 -2.4l8 -2.4l-0.8 1.6l0.8 0zM194.7 215.8l-0.9 0l0.9 1.8l-8.5 -2.6l8.5 -2.6l-0.9 1.8l0.9 0zM247.4 215.9l-0.9 0l0.9 1.8l-9 -2.7l9 -2.7l-0.9 1.8l0.9 0zM300.8 216.1l-1.1 0l1.1 2.2l-11 -3.3l11 -3.3l-1.1 2.2l1.1 0zM353.2 216.1l-1.1 0l1.1 2.2l-11 -3.3l11 -3.3l-1.1 2.2l1.1 0zM404.1 215.8l-0.8 0l0.8 1.6l-8 -2.4l8 -2.4l-0.8 1.6l0.8 0zM456 215.7l-0.7 0l0.7 1.4l-7 -2.1l7 -2.1l-0.7 1.4l0.7 0zM508 215.6l-0.6 0l0.6 1.2l-6 -1.8l6 -1.8l-0.6 1.2l0.6 0zM559.1 215.3l-0.3 0l0.3 0.6l-3.5 -1l3.5 -1l-0.3 0.6l0.3 0zM611.6 215.3l-0.4 0l0.4 0.6l-3.5 -1l3.5 -1l-0.4 0.6l0.4 0zM663.5 215.2l-0.3 0l0.3 0.6l-2.5 -0.8l2.5 -0.8l-0.3 0.6l0.3 0zM715.8 215l-0.6 1l-1.1 0l-0.6 -1l0.6 -1l1.1 0zM768.2 215l-0.6 1l-1.1 0l-0.6 -1l0.6 -1l1.1 0zM820.6 215l-0.6 1l-1.1 0l-0.5 -1l0.5 -1l1.1 0zM873 215l-0.5 1l-1.2 0l-0.5 -1l0.5 -1l1.2 0zM923.1 215.2l0.2 0l-0.2 0.6l2.5 -0.8l-2.5 -0.8l0.2 0.6l-0.2 0zM975 215.3l0.3 0l-0.3 0.6l3.5 -1l-3.5 -1l0.3 0.6l-0.3 0zM1027.2 215.4l0.4 0l-0.4 0.8l4 -1.2l-4 -1.2l0.4 0.8l-0.4 0zM1079.1 215.5l0.5 0l-0.5 1l5 -1.5l-5 -1.5l0.5 1l-0.5 0zM1130.8 215.7l0.6 0l-0.6 1.4l6.4 -2l-6.4 -2l0.6 1.4l-0.6 0zM1182.9 215.7l0.7 0l-0.7 1.4l7 -2.1l-7 -2.1l0.7 1.4l-0.7 0zM90.1 235.2l-0.9 0l0.9 1.8l-9 -2.8l9 -2.6l-0.9 1.8l0.9 0zM140.5 234.8l-0.5 0l0.5 1l-5 -1.6l5 -1.4l-0.5 1l0.5 0zM194.7 235.1l-0.9 0l0.9 1.7l-8.5 -2.6l8.5 -2.5l-0.9 1.7l0.9 0zM247.1 235.1l-0.8 0l0.8 1.7l-8.5 -2.6l8.5 -2.5l-0.8 1.7l0.8 0zM300.5 235.3l-1 0l1 2.1l-10.5 -3.2l10.5 -3.1l-1 2.1l1 0zM352.7 235.2l-1 0l1 2l-10 -3l10 -3l-1 2l1 0zM403.1 234.8l-0.6 0l0.6 1.2l-6 -1.8l6 -1.8l-0.6 1.2l0.6 0zM456 234.9l-0.7 0l0.7 1.4l-7 -2.2l7 -2l-0.7 1.4l0.7 0zM507.5 234.8l-0.5 0l0.5 1l-5 -1.6l5 -1.4l-0.5 1l0.5 0zM559.9 234.8l-0.5 0l0.5 1l-5 -1.6l5 -1.4l-0.5 1l0.5 0zM611.6 234.6l-0.4 0l0.4 0.7l-3.5 -1.1l3.5 -1l-0.4 0.7l0.4 0zM663.3 234.2l-0.5 1l-1.1 0l-0.6 -1l0.6 -0.9l1.1 0zM715.8 234.2l-0.6 1l-1.1 0l-0.6 -1l0.6 -0.9l1.1 0zM768.2 234.2l-0.6 1l-1.1 0l-0.6 -1l0.6 -0.9l1.1 0zM820.6 234.2l-0.6 1l-1.1 0l-0.5 -1l0.5 -0.9l1.1 0zM873 234.2l-0.5 1l-1.2 0l-0.5 -1l0.5 -0.9l1.2 0zM923.1 234.5l0.2 0l-0.2 0.5l2.5 -0.8l-2.5 -0.7l0.2 0.5l-0.2 0zM975.2 234.6l0.3 0l-0.3 0.6l3 -1l-3 -0.8l0.3 0.6l-0.3 0zM1026.9 234.7l0.5 0l-0.5 0.9l4.5 -1.4l-4.5 -1.3l0.5 0.9l-0.5 0zM1079.3 234.7l0.5 0l-0.5 0.9l4.5 -1.4l-4.5 -1.3l0.5 0.9l-0.5 0zM1131.5 234.8l0.5 0l-0.5 1l5 -1.6l-5 -1.4l0.5 1l-0.5 0zM1183.7 234.8l0.5 0l-0.5 1.1l5.5 -1.7l-5.5 -1.6l0.5 1.1l-0.5 0zM89.6 254.3l-0.8 0l0.8 1.6l-8 -2.4l8 -2.4l-0.8 1.6l0.8 0zM139.1 253.5l-0.5 1l-1.1 0l-0.6 -1l0.6 -1l1.1 0zM193.9 254.2l-0.7 0l0.7 1.4l-7 -2.1l7 -2.1l-0.7 1.4l0.7 0zM247.1 254.3l-0.8 0l0.8 1.6l-8.5 -2.5l8.5 -2.5l-0.8 1.6l0.8 0zM299.8 254.4l-0.9 0l0.9 1.8l-9 -2.7l9 -2.7l-0.9 1.8l0.9 0zM352.2 254.4l-0.9 0l0.9 1.8l-9 -2.7l9 -2.7l-0.9 1.8l0.9 0zM403.1 254.1l-0.6 0l0.6 1.2l-6 -1.8l6 -1.8l-0.6 1.2l0.6 0zM455.5 254.1l-0.6 0l0.6 1.2l-6 -1.8l6 -1.8l-0.6 1.2l0.6 0zM507.5 254l-0.5 0l0.5 1l-5 -1.5l5 -1.5l-0.5 1l0.5 0zM559.1 253.8l-0.3 0l0.3 0.8l-3.5 -1.1l3.5 -1.1l-0.3 0.8l0.3 0zM611.6 253.8l-0.4 0l0.4 0.8l-3.5 -1.1l3.5 -1.1l-0.4 0.8l0.4 0zM663.7 253.8l-0.3 0l0.3 0.6l-3 -0.9l3 -0.9l-0.3 0.6l0.3 0zM715.8 253.5l-0.6 1l-1.1 0l-0.6 -1l0.6 -1l1.1 0zM768.2 253.5l-0.6 1l-1.1 0l-0.6 -1l0.6 -1l1.1 0zM820.6 253.5l-0.6 1l-1.1 0l-0.5 -1l0.5 -1l1.1 0zM873 253.5l-0.5 1l-1.2 0l-0.5 -1l0.5 -1l1.2 0zM923.1 253.8l0.2 0l-0.2 0.4l2.5 -0.7l-2.5 -0.7l0.2 0.4l-0.2 0zM975.2 253.8l0.3 0l-0.3 0.6l3 -0.9l-3 -0.9l0.3 0.6l-0.3 0zM1027.4 253.8l0.4 0l-0.4 0.8l3.5 -1.1l-3.5 -1.1l0.4 0.8l-0.4 0zM1079.6 253.9l0.4 0l-0.4 0.8l4 -1.2l-4 -1.2l0.4 0.8l-0.4 0zM1131.8 253.9l0.4 0l-0.4 0.8l4.4 -1.3l-4.4 -1.3l0.4 0.8l-0.4 0zM1183.9 254l0.5 0l-0.5 1l5 -1.5l-5 -1.5l0.5 1l-0.5 0zM89.1 273.4l-0.7 0l0.7 1.4l-7 -2l7 -2.2l-0.7 1.4l0.7 0zM140 273.1l-0.4 0l0.4 0.8l-4 -1.2l4 -1.2l-0.4 0.8l0.4 0zM192.9 273.2l-0.5 0l0.5 1l-5 -1.4l5 -1.6l-0.5 1l0.5 0zM246.9 273.6l-0.8 0l0.8 1.6l-8 -2.4l8 -2.4l-0.8 1.6l0.8 0zM299.3 273.6l-0.8 0l0.8 1.6l-8 -2.4l8 -2.4l-0.8 1.6l0.8 0zM351.7 273.6l-0.8 0l0.8 1.6l-8 -2.4l8 -2.4l-0.8 1.6l0.8 0zM404.6 273.6l-0.9 0l0.9 1.8l-9 -2.6l9 -2.8l-0.9 1.8l0.9 0zM456.5 273.6l-0.8 0l0.8 1.6l-8 -2.4l8 -2.4l-0.8 1.6l0.8 0zM508.5 273.4l-0.7 0l0.7 1.4l-7 -2l7 -2.2l-0.7 1.4l0.7 0zM560.6 273.4l-0.6 0l0.6 1.3l-6.5 -1.9l6.5 -2l-0.6 1.3l0.6 0zM612.8 273.4l-0.6 0l0.6 1.2l-6 -1.8l6 -1.8l-0.6 1.2l0.6 0zM664 273.1l-0.4 0l0.4 0.7l-3.5 -1l3.5 -1.1l-0.4 0.7l0.4 0zM715.9 273l-0.3 0l0.3 0.5l-2.5 -0.7l2.5 -0.8l-0.3 0.5l0.3 0zM768.2 272.8l-0.6 0.9l-1.1 0l-0.6 -0.9l0.6 -1l1.1 0zM820.6 272.8l-0.6 0.9l-1.1 0l-0.5 -0.9l0.5 -1l1.1 0zM873 272.8l-0.5 0.9l-1.2 0l-0.5 -0.9l0.5 -1l1.2 0zM922.8 273.1l0.3 0l-0.3 0.6l3 -0.8l-3 -1l0.3 0.6l-0.3 0zM975.2 273.1l0.3 0l-0.3 0.6l3 -0.8l-3 -1l0.3 0.6l-0.3 0zM1027.2 273.1l0.4 0l-0.4 0.8l4 -1.2l-4 -1.2l0.4 0.8l-0.4 0zM1079.3 273.2l0.5 0l-0.5 0.9l4.5 -1.3l-4.5 -1.4l0.5 0.9l-0.5 0zM1131.5 273.2l0.5 0l-0.5 1l5 -1.4l-5 -1.6l0.5 1l-0.5 0zM1183.9 273.2l0.5 0l-0.5 1l5 -1.4l-5 -1.6l0.5 1l-0.5 0zM88.6 292.6l-0.6 0l0.6 1.2l-6 -1.8l6 -1.8l-0.6 1.2l0.6 0zM140 292.4l-0.4 0l0.4 0.8l-4 -1.2l4 -1.2l-0.4 0.8l0.4 0zM192.4 292.4l-0.4 0l0.4 0.8l-4 -1.2l4 -1.2l-0.4 0.8l0.4 0zM245.9 292.6l-0.6 0l0.6 1.2l-6 -1.8l6 -1.8l-0.6 1.2l0.6 0zM298.8 292.7l-0.7 0l0.7 1.4l-7 -2.1l7 -2.1l-0.7 1.4l0.7 0zM351.2 292.7l-0.7 0l0.7 1.4l-7 -2.1l7 -2.1l-0.7 1.4l0.7 0zM403.6 292.7l-0.7 0l0.7 1.4l-7 -2.1l7 -2.1l-0.7 1.4l0.7 0zM456 292.7l-0.7 0l0.7 1.4l-7 -2.1l7 -2.1l-0.7 1.4l0.7 0zM507 292.4l-0.4 0l0.4 0.8l-4 -1.2l4 -1.2l-0.4 0.8l0.4 0zM559.1 292.4l-0.3 0l0.3 0.6l-3.5 -1l3.5 -1l-0.3 0.6l0.3 0zM612.3 292.5l-0.5 0l0.5 1l-5 -1.5l5 -1.5l-0.5 1l0.5 0zM664 292.4l-0.4 0l0.4 0.6l-3.5 -1l3.5 -1l-0.4 0.6l0.4 0zM715.9 292.2l-0.3 0l0.3 0.6l-2.5 -0.8l2.5 -0.8l-0.3 0.6l0.3 0zM768.2 292l-0.6 1l-1.1 0l-0.6 -1l0.6 -1l1.1 0zM820.6 292l-0.6 1l-1.1 0l-0.5 -1l0.5 -1l1.1 0zM873 292l-0.5 1l-1.2 0l-0.5 -1l0.5 -1l1.2 0zM922.8 292.3l0.3 0l-0.3 0.6l3 -0.9l-3 -0.9l0.3 0.6l-0.3 0zM975.2 292.3l0.3 0l-0.3 0.6l3 -0.9l-3 -0.9l0.3 0.6l-0.3 0zM1027.4 292.4l0.4 0l-0.4 0.6l3.5 -1l-3.5 -1l0.4 0.6l-0.4 0zM1079.6 292.4l0.4 0l-0.4 0.8l4 -1.2l-4 -1.2l0.4 0.8l-0.4 0zM1132 292.4l0.4 0l-0.4 0.8l4 -1.2l-4 -1.2l0.4 0.8l-0.4 0zM1184.4 292.4l0.4 0l-0.4 0.8l4 -1.2l-4 -1.2l0.4 0.8l-0.4 0zM88.1 311.8l-0.5 0l0.5 1l-5 -1.6l5 -1.4l-0.5 1l0.5 0zM139.5 311.6l-0.3 0l0.3 0.6l-3 -1l3 -0.8l-0.3 0.6l0.3 0zM192.9 311.8l-0.5 0l0.5 1l-5 -1.6l5 -1.4l-0.5 1l0.5 0zM245.4 311.8l-0.5 0l0.5 1l-5 -1.6l5 -1.4l-0.5 1l0.5 0zM298.3 311.9l-0.6 0l0.6 1.2l-6 -1.8l6 -1.8l-0.6 1.2l0.6 0zM350.7 311.9l-0.6 0l0.6 1.2l-6 -1.8l6 -1.8l-0.6 1.2l0.6 0zM403.6 311.9l-0.7 0l0.7 1.4l-7 -2.2l7 -2l-0.7 1.4l0.7 0zM456.5 312.1l-0.8 0l0.8 1.6l-8 -2.4l8 -2.4l-0.8 1.6l0.8 0zM508.7 312l-0.7 0l0.7 1.5l-7.5 -2.3l7.5 -2.2l-0.7 1.5l0.7 0zM560.9 311.9l-0.7 0l0.7 1.4l-7 -2.2l7 -2l-0.7 1.4l0.7 0zM612.3 311.8l-0.5 0l0.5 1l-5 -1.6l5 -1.4l-0.5 1l0.5 0zM664.2 311.6l-0.4 0l0.4 0.8l-4 -1.2l4 -1.2l-0.4 0.8l0.4 0zM716.1 311.6l-0.3 0l0.3 0.6l-3 -1l3 -0.8l-0.3 0.6l0.3 0zM768.2 311.2l-0.6 1l-1.1 0l-0.6 -1l0.6 -0.9l1.1 0zM820.6 311.2l-0.6 1l-1.1 0l-0.5 -1l0.5 -0.9l1.1 0zM873 311.2l-0.5 1l-1.2 0l-0.5 -1l0.5 -0.9l1.2 0zM922.8 311.6l0.3 0l-0.3 0.6l3 -1l-3 -0.8l0.3 0.6l-0.3 0zM975 311.6l0.3 0l-0.3 0.7l3.5 -1.1l-3.5 -1l0.3 0.7l-0.3 0zM1027.2 311.6l0.4 0l-0.4 0.8l4 -1.2l-4 -1.2l0.4 0.8l-0.4 0zM1079.3 311.7l0.5 0l-0.5 0.9l4.5 -1.4l-4.5 -1.3l0.5 0.9l-0.5 0zM1131.8 311.7l0.4 0l-0.4 0.9l4.4 -1.4l-4.4 -1.3l0.4 0.9l-0.4 0zM1184.2 311.7l0.4 0l-0.4 0.9l4.5 -1.4l-4.5 -1.3l0.4 0.9l-0.4 0zM87.6 330.9l-0.4 0l0.4 0.8l-4 -1.2l4 -1.2l-0.4 0.8l0.4 0zM139.3 330.8l-0.3 0l0.3 0.4l-2.5 -0.7l2.5 -0.7l-0.3 0.4l0.3 0zM192.9 331l-0.5 0l0.5 1l-5 -1.5l5 -1.5l-0.5 1l0.5 0zM245.4 331l-0.5 0l0.5 1l-5 -1.5l5 -1.5l-0.5 1l0.5 0zM298.3 331.1l-0.6 0l0.6 1.2l-6 -1.8l6 -1.8l-0.6 1.2l0.6 0zM350.7 331.1l-0.6 0l0.6 1.2l-6 -1.8l6 -1.8l-0.6 1.2l0.6 0zM403.6 331.2l-0.7 0l0.7 1.4l-7 -2.1l7 -2.1l-0.7 1.4l0.7 0zM456 331.2l-0.7 0l0.7 1.4l-7 -2.1l7 -2.1l-0.7 1.4l0.7 0zM508 331.1l-0.6 0l0.6 1.2l-6 -1.8l6 -1.8l-0.6 1.2l0.6 0zM560.4 331.1l-0.6 0l0.6 1.2l-6 -1.8l6 -1.8l-0.6 1.2l0.6 0zM612.8 331.1l-0.6 0l0.6 1.2l-6 -1.8l6 -1.8l-0.6 1.2l0.6 0zM664.2 330.9l-0.4 0l0.4 0.8l-4 -1.2l4 -1.2l-0.4 0.8l0.4 0zM716.1 330.8l-0.3 0l0.3 0.6l-3 -0.9l3 -0.9l-0.3 0.6l0.3 0zM768.2 330.5l-0.6 1l-1.1 0l-0.6 -1l0.6 -1l1.1 0zM820.6 330.5l-0.6 1l-1.1 0l-0.5 -1l0.5 -1l1.1 0zM870.7 330.8l0.3 0l-0.3 0.4l2.6 -0.7l-2.6 -0.7l0.3 0.4l-0.3 0zM922.3 330.9l0.4 0l-0.4 0.8l4 -1.2l-4 -1.2l0.4 0.8l-0.4 0zM974.5 330.9l0.4 0l-0.4 0.8l4.5 -1.3l-4.5 -1.3l0.4 0.8l-0.4 0zM1026.7 331l0.5 0l-0.5 1l5 -1.5l-5 -1.5l0.5 1l-0.5 0zM1079.1 331l0.5 0l-0.5 1l5 -1.5l-5 -1.5l0.5 1l-0.5 0zM1131.5 331l0.5 0l-0.5 1l5 -1.5l-5 -1.5l0.5 1l-0.5 0zM1183.9 331l0.5 0l-0.5 1l5 -1.5l-5 -1.5l0.5 1l-0.5 0zM87.6 350.1l-0.4 0l0.4 0.8l-4 -1.2l4 -1.2l-0.4 0.8l0.4 0zM139.5 350.1l-0.3 0l0.3 0.6l-3 -0.8l3 -1l-0.3 0.6l0.3 0zM192.9 350.2l-0.5 0l0.5 1l-5 -1.4l5 -1.6l-0.5 1l0.5 0zM245.4 350.2l-0.5 0l0.5 1l-5 -1.4l5 -1.6l-0.5 1l0.5 0zM298.3 350.4l-0.6 0l0.6 1.2l-6 -1.8l6 -1.8l-0.6 1.2l0.6 0zM350.2 350.2l-0.5 0l0.5 1l-5 -1.4l5 -1.6l-0.5 1l0.5 0zM402.1 350.1l-0.4 0l0.4 0.8l-4 -1.2l4 -1.2l-0.4 0.8l0.4 0zM455.5 350.4l-0.6 0l0.6 1.2l-6 -1.8l6 -1.8l-0.6 1.2l0.6 0zM508 350.4l-0.6 0l0.6 1.2l-6 -1.8l6 -1.8l-0.6 1.2l0.6 0zM560.9 350.4l-0.7 0l0.7 1.4l-7 -2l7 -2.2l-0.7 1.4l0.7 0zM613.8 350.6l-0.8 0l0.8 1.6l-8 -2.4l8 -2.4l-0.8 1.6l0.8 0zM664.7 350.2l-0.5 0l0.5 1l-5 -1.4l5 -1.6l-0.5 1l0.5 0zM716.6 350.1l-0.4 0l0.4 0.8l-4 -1.2l4 -1.2l-0.4 0.8l0.4 0zM768.2 349.8l-0.6 0.9l-1.1 0l-0.6 -0.9l0.6 -1l1.1 0zM820.6 349.8l-0.6 0.9l-1.1 0l-0.5 -0.9l0.5 -1l1.1 0zM870.4 350.1l0.3 0l-0.3 0.6l3 -0.8l-3 -1l0.3 0.6l-0.3 0zM922.3 350.1l0.4 0l-0.4 0.8l4 -1.2l-4 -1.2l0.4 0.8l-0.4 0zM974.2 350.2l0.5 0l-0.5 1l5 -1.4l-5 -1.6l0.5 1l-0.5 0zM1026.7 350.2l0.5 0l-0.5 1l5 -1.4l-5 -1.6l0.5 1l-0.5 0zM1078.6 350.4l0.6 0l-0.6 1.2l6 -1.8l-6 -1.8l0.6 1.2l-0.6 0zM1131.5 350.2l0.5 0l-0.5 1l5 -1.4l-5 -1.6l0.5 1l-0.5 0zM1183.9 350.2l0.5 0l-0.5 1l5 -1.4l-5 -1.6l0.5 1l-0.5 0zM87.6 369.4l-0.4 0l0.4 0.8l-4 -1.2l4 -1.2l-0.4 0.8l0.4 0zM139.5 369.3l-0.3 0l0.3 0.6l-3 -0.9l3 -0.9l-0.3 0.6l0.3 0zM192.9 369.5l-0.5 0l0.5 1l-5 -1.5l5 -1.5l-0.5 1l0.5 0zM245.9 369.6l-0.6 0l0.6 1.2l-6 -1.8l6 -1.8l-0.6 1.2l0.6 0zM298.3 369.6l-0.6 0l0.6 1.2l-6 -1.8l6 -1.8l-0.6 1.2l0.6 0zM350.2 369.5l-0.5 0l0.5 1l-5 -1.5l5 -1.5l-0.5 1l0.5 0zM402.1 369.4l-0.4 0l0.4 0.8l-4 -1.2l4 -1.2l-0.4 0.8l0.4 0zM455.5 369.6l-0.6 0l0.6 1.2l-6 -1.8l6 -1.8l-0.6 1.2l0.6 0zM508.5 369.7l-0.7 0l0.7 1.4l-7 -2.1l7 -2.1l-0.7 1.4l0.7 0zM560.9 369.7l-0.7 0l0.7 1.4l-7 -2.1l7 -2.1l-0.7 1.4l0.7 0zM613.8 369.8l-0.8 0l0.8 1.6l-8 -2.4l8 -2.4l-0.8 1.6l0.8 0zM664.7 369.5l-0.5 0l0.5 1l-5 -1.5l5 -1.5l-0.5 1l0.5 0zM716.6 369.4l-0.4 0l0.4 0.8l-4 -1.2l4 -1.2l-0.4 0.8l0.4 0zM768.2 369l-0.6 1l-1.1 0l-0.6 -1l0.6 -1l1.1 0zM820.6 369l-0.6 1l-1.1 0l-0.5 -1l0.5 -1l1.1 0zM870.4 369.3l0.3 0l-0.3 0.6l3 -0.9l-3 -0.9l0.3 0.6l-0.3 0zM922.3 369.4l0.4 0l-0.4 0.8l4 -1.2l-4 -1.2l0.4 0.8l-0.4 0zM974.2 369.5l0.5 0l-0.5 1l5 -1.5l-5 -1.5l0.5 1l-0.5 0zM1026.7 369.5l0.5 0l-0.5 1l5 -1.5l-5 -1.5l0.5 1l-0.5 0zM1078.8 369.6l0.6 0l-0.6 1l5.5 -1.6l-5.5 -1.6l0.6 1l-0.6 0zM1131.5 369.5l0.5 0l-0.5 1l5 -1.5l-5 -1.5l0.5 1l-0.5 0zM1183.9 369.5l0.5 0l-0.5 1l5 -1.5l-5 -1.5l0.5 1l-0.5 0zM87.6 388.6l-0.4 0l0.4 0.8l-4 -1.2l4 -1.2l-0.4 0.8l0.4 0zM140 388.6l-0.4 0l0.4 0.8l-4 -1.2l4 -1.2l-0.4 0.8l0.4 0zM192.9 388.8l-0.5 0l0.5 1l-5 -1.6l5 -1.4l-0.5 1l0.5 0zM245.9 388.9l-0.6 0l0.6 1.2l-6 -1.8l6 -1.8l-0.6 1.2l0.6 0zM298.3 388.9l-0.6 0l0.6 1.2l-6 -1.8l6 -1.8l-0.6 1.2l0.6 0zM350.2 388.8l-0.5 0l0.5 1l-5 -1.6l5 -1.4l-0.5 1l0.5 0zM402.1 388.6l-0.4 0l0.4 0.8l-4 -1.2l4 -1.2l-0.4 0.8l0.4 0zM455.5 388.9l-0.6 0l0.6 1.2l-6 -1.8l6 -1.8l-0.6 1.2l0.6 0zM509 389.1l-0.8 0l0.8 1.6l-8 -2.4l8 -2.4l-0.8 1.6l0.8 0zM561.4 389.1l-0.8 0l0.8 1.6l-8 -2.4l8 -2.4l-0.8 1.6l0.8 0zM613.8 389.1l-0.8 0l0.8 1.6l-8 -2.4l8 -2.4l-0.8 1.6l0.8 0zM665.2 388.9l-0.6 0l0.6 1.2l-6 -1.8l6 -1.8l-0.6 1.2l0.6 0zM717.1 388.8l-0.5 0l0.5 1l-5 -1.6l5 -1.4l-0.5 1l0.5 0zM768.2 388.2l-0.6 1l-1.1 0l-0.6 -1l0.6 -0.9l1.1 0zM820.6 388.2l-0.6 1l-1.1 0l-0.5 -1l0.5 -0.9l1.1 0zM870.4 388.6l0.3 0l-0.3 0.6l3 -1l-3 -0.8l0.3 0.6l-0.3 0zM922.3 388.6l0.4 0l-0.4 0.8l4 -1.2l-4 -1.2l0.4 0.8l-0.4 0zM974.2 388.8l0.5 0l-0.5 1l5 -1.6l-5 -1.4l0.5 1l-0.5 0zM1026.7 388.8l0.5 0l-0.5 1l5 -1.6l-5 -1.4l0.5 1l-0.5 0zM1078.8 388.8l0.6 0l-0.6 1.1l5.5 -1.7l-5.5 -1.6l0.6 1.1l-0.6 0zM1131.5 388.8l0.5 0l-0.5 1l5 -1.6l-5 -1.4l0.5 1l-0.5 0zM1183.9 388.8l0.5 0l-0.5 1l5 -1.6l-5 -1.4l0.5 1l-0.5 0zM87.6 407.9l-0.4 0l0.4 0.8l-4 -1.2l4 -1.2l-0.4 0.8l0.4 0zM140 407.9l-0.4 0l0.4 0.8l-4 -1.2l4 -1.2l-0.4 0.8l0.4 0zM192.9 408l-0.5 0l0.5 1l-5 -1.5l5 -1.5l-0.5 1l0.5 0zM245.9 408.1l-0.6 0l0.6 1.2l-6 -1.8l6 -1.8l-0.6 1.2l0.6 0zM297.8 408l-0.5 0l0.5 1l-5 -1.5l5 -1.5l-0.5 1l0.5 0zM350.2 408l-0.5 0l0.5 1l-5 -1.5l5 -1.5l-0.5 1l0.5 0zM402.1 407.9l-0.4 0l0.4 0.8l-4 -1.2l4 -1.2l-0.4 0.8l0.4 0zM454.5 407.9l-0.4 0l0.4 0.8l-4 -1.2l4 -1.2l-0.4 0.8l0.4 0zM508.5 408.2l-0.7 0l0.7 1.4l-7 -2.1l7 -2.1l-0.7 1.4l0.7 0zM560.4 408.1l-0.6 0l0.6 1.2l-6 -1.8l6 -1.8l-0.6 1.2l0.6 0zM612.8 408.1l-0.6 0l0.6 1.2l-6 -1.8l6 -1.8l-0.6 1.2l0.6 0zM664.7 408l-0.5 0l0.5 1l-5 -1.5l5 -1.5l-0.5 1l0.5 0zM716.6 407.9l-0.4 0l0.4 0.8l-4 -1.2l4 -1.2l-0.4 0.8l0.4 0zM768.2 407.5l-0.6 1l-1.1 0l-0.6 -1l0.6 -1l1.1 0zM820.6 407.5l-0.6 1l-1.1 0l-0.5 -1l0.5 -1l1.1 0zM870.4 407.8l0.3 0l-0.3 0.6l3 -0.9l-3 -0.9l0.3 0.6l-0.3 0zM922.3 407.9l0.4 0l-0.4 0.8l4 -1.2l-4 -1.2l0.4 0.8l-0.4 0zM974.2 408l0.5 0l-0.5 1l5 -1.5l-5 -1.5l0.5 1l-0.5 0zM1026.7 408l0.5 0l-0.5 1l5 -1.5l-5 -1.5l0.5 1l-0.5 0zM1079.1 408l0.5 0l-0.5 1l5 -1.5l-5 -1.5l0.5 1l-0.5 0zM1131.5 408l0.5 0l-0.5 1l5 -1.5l-5 -1.5l0.5 1l-0.5 0zM1183.9 408l0.5 0l-0.5 1l5 -1.5l-5 -1.5l0.5 1l-0.5 0zM87.6 427.1l-0.4 0l0.4 0.8l-4 -1.2l4 -1.2l-0.4 0.8l0.4 0zM140 427.1l-0.4 0l0.4 0.8l-4 -1.2l4 -1.2l-0.4 0.8l0.4 0zM192.9 427.2l-0.5 0l0.5 1l-5 -1.4l5 -1.6l-0.5 1l0.5 0zM246.4 427.4l-0.7 0l0.7 1.4l-7 -2l7 -2.2l-0.7 1.4l0.7 0zM297.8 427.2l-0.5 0l0.5 1l-5 -1.4l5 -1.6l-0.5 1l0.5 0zM349.7 427.1l-0.4 0l0.4 0.8l-4 -1.2l4 -1.2l-0.4 0.8l0.4 0zM401.6 427.1l-0.3 0l0.3 0.6l-3 -0.8l3 -1l-0.3 0.6l0.3 0zM454 427.1l-0.3 0l0.3 0.6l-3 -0.8l3 -1l-0.3 0.6l0.3 0zM507.5 427.2l-0.5 0l0.5 1l-5 -1.4l5 -1.6l-0.5 1l0.5 0zM560.4 427.4l-0.6 0l0.6 1.2l-6 -1.8l6 -1.8l-0.6 1.2l0.6 0zM612.3 427.2l-0.5 0l0.5 1l-5 -1.4l5 -1.6l-0.5 1l0.5 0zM665.2 427.4l-0.6 0l0.6 1.2l-6 -1.8l6 -1.8l-0.6 1.2l0.6 0zM716.6 427.1l-0.4 0l0.4 0.8l-4 -1.2l4 -1.2l-0.4 0.8l0.4 0zM768.2 426.8l-0.6 0.9l-1.1 0l-0.6 -0.9l0.6 -1l1.1 0zM820.6 426.8l-0.6 0.9l-1.1 0l-0.5 -0.9l0.5 -1l1.1 0zM870.4 427.1l0.3 0l-0.3 0.6l3 -0.8l-3 -1l0.3 0.6l-0.3 0zM922.1 427.2l0.4 0l-0.4 0.9l4.5 -1.3l-4.5 -1.4l0.4 0.9l-0.4 0zM974 427.3l0.5 0l-0.5 1.1l5.5 -1.6l-5.5 -1.7l0.5 1.1l-0.5 0zM1026.9 427.2l0.5 0l-0.5 0.9l4.5 -1.3l-4.5 -1.4l0.5 0.9l-0.5 0zM1079.1 427.2l0.5 0l-0.5 1l5 -1.4l-5 -1.6l0.5 1l-0.5 0zM1132 427.1l0.4 0l-0.4 0.8l4 -1.2l-4 -1.2l0.4 0.8l-0.4 0zM1184.4 427.1l0.4 0l-0.4 0.8l4 -1.2l-4 -1.2l0.4 0.8l-0.4 0zM93.1 62.1l-4.9 0l1.1 2.3l-11.2 -3.4l11.2 -3.4l-1.1 2.3l4.9 0zM144.5 62.1l-2.9 0l1.1 2.3l-11.2 -3.4l11.2 -3.4l-1.1 2.3l2.9 0zM198.4 62.1l-5.9 0l1.1 2.3l-11.2 -3.4l11.2 -3.4l-1.1 2.3l5.9 0zM250.9 62.1l-6 0l1.1 2.3l-11.1 -3.4l11.1 -3.4l-1.1 2.3l6 0zM302.8 62.1l-5 0l1.2 2.3l-11.2 -3.4l11.2 -3.4l-1.2 2.3l5 0zM354.7 62.1l-3.9 0l1.1 2.3l-11.2 -3.4l11.2 -3.4l-1.1 2.3l3.9 0zM405.6 62.1l-1.1 0l1.1 2.2l-11 -3.3l11 -3.3l-1.1 2.2l1.1 0zM456.4 61.8l-0.7 0l0.7 1.5l-7.8 -2.3l7.8 -2.3l-0.7 1.5l0.7 0zM508 61.6l-0.6 0l0.6 1.2l-6 -1.8l6 -1.8l-0.6 1.2l0.6 0zM559.1 61.4l-0.3 0l0.3 0.6l-3.5 -1l3.5 -1l-0.3 0.6l0.3 0zM611.1 61.2l-0.3 0l0.3 0.6l-2.5 -0.8l2.5 -0.8l-0.3 0.6l0.3 0zM663.3 61l-0.5 1l-1.1 0l-0.6 -1l0.6 -1l1.1 0zM715.8 61l-0.6 1l-1.1 0l-0.6 -1l0.6 -1l1.1 0zM768.2 61l-0.6 1l-1.1 0l-0.6 -1l0.6 -1l1.1 0zM820.6 61l-0.6 1l-1.1 0l-0.5 -1l0.5 -1l1.1 0zM873 61l-0.5 1l-1.2 0l-0.5 -1l0.5 -1l1.2 0zM923.1 61.2l0.2 0l-0.2 0.6l2.5 -0.8l-2.5 -0.8l0.2 0.6l-0.2 0zM975.5 61.2l0.2 0l-0.2 0.6l2.5 -0.8l-2.5 -0.8l0.2 0.6l-0.2 0zM1027.4 61.4l0.4 0l-0.4 0.6l3.5 -1l-3.5 -1l0.4 0.6l-0.4 0zM1079.3 61.5l0.5 0l-0.5 1l4.5 -1.4l-4.5 -1.4l0.5 1l-0.5 0zM1131.2 61.5l0.6 0l-0.6 1l5.6 -1.6l-5.6 -1.6l0.6 1l-0.6 0zM1183.4 61.6l0.6 0l-0.6 1.2l6 -1.8l-6 -1.8l0.6 1.2l-0.6 0z" fill="#000"/>
</g>
<rect x="85.5" y="61.5" width="1118.0" height="385.0" fill="none" stroke="#000" stroke-width="1.11"/>
<path d="M85.5 446.5h-4.86M85.5 407.5h-4.86M85.5 369.5h-4.86M85.5 330.5h-4.86M85.5 292.5h-4.86M85.5 253.5h-4.86M85.5 215.5h-4.86M85.5 176.5h-4.86M85.5 138.5h-4.86M85.5 99.5h-4.86M85.5 61.5h-4.86M85.5 446.5v4.86M198.5 446.5v4.86M311.5 446.5v4.86M424.5 446.5v4.86M537.5 446.5v4.86M650.5 446.5v4.86M763.5 446.5v4.86M876.5 446.5v4.86M989.5 446.5v4.86M1102.5 446.5v4.86M1203.5 446.5v4.86" stroke="#000" stroke-width="1.11" fill="none"/>
<text x="75.3" y="451.3" text-anchor="end">0.0</text>
<text x="75.3" y="412.8" text-anchor="end">1000.0</text>
<text x="75.3" y="374.3" text-anchor="end">2000.0</text>
<text x="75.3" y="335.8" text-anchor="end">3000.0</text>
<text x="75.3" y="297.3" text-anchor="end">4000.0</text>
<text x="75.3" y="258.8" text-anchor="end">5000.0</text>
<text x="75.3" y="220.3" text-anchor="end">6000.0</text>
<text x="75.3" y="181.8" text-anchor="end">7000.0</text>
<text x="75.3" y="143.3" text-anchor="end">8000.0</text>
<text x="75.3" y="104.8" text-anchor="end">9000.0</text>
<text x="75.3" y="66.3" text-anchor="end">10000.0</text>
<text x="84.4" y="466.8" text-anchor="middle">50.00</text>
<text x="85.0" y="484.2" text-anchor="middle">-2.49</text>
<text x="197.4" y="466.8" text-anchor="middle">51.01</text>
<text x="198.0" y="484.2" text-anchor="middle">-2.49</text>
<text x="310.5" y="466.8" text-anchor="middle">52.02</text>
<text x="311.1" y="484.2" text-anchor="middle">-2.49</text>
<text x="423.5" y="466.8" text-anchor="middle">53.03</text>
<text x="424.1" y="484.2" text-anchor="middle">-2.49</text>
<text x="536.5" y="466.8" text-anchor="middle">54.04</text>
<text x="537.1" y="484.2" text-anchor="middle">-2.49</text>
<text x="649.5" y="466.8" text-anchor="middle">55.05</text>
<text x="650.1" y="484.2" text-anchor="middle">-2.49</text>
<text x="762.6" y="466.8" text-anchor="middle">56.06</text>
<text x="763.2" y="484.2" text-anchor="middle">-2.49</text>
<text x="875.6" y="466.8" text-anchor="middle">57.07</text>
<text x="876.2" y="484.2" text-anchor="middle">-2.49</text>
<text x="988.6" y="466.8" text-anchor="middle">58.08</text>
<text x="989.2" y="484.2" text-anchor="middle">-2.49</text>
<text x="1101.7" y="466.8" text-anchor="middle">59.09</text>
<text x="1102.3" y="484.2" text-anchor="middle">-2.49</text>
<text x="1202.9" y="466.8" text-anchor="middle">59.99</text>
<text x="1203.5" y="484.2" text-anchor="middle">-2.49</text>
<text x="599.5" y="497.6" text-anchor="middle">Latitude (degrees N)</text>
<text x="631" y="513.6" text-anchor="middle">Longitude (degrees E)</text>
<text x="22" y="253" text-anchor="middle" transform="rotate(-90 22 253)">Altitude (meters)</text>
<text class="b" x="85.5" y="21.2" letter-spacing="0.012">Dewpoint Temperature cross section and wind vectors parallel to cross section: CrosssectionA</text>
<text class="b" x="85.5" y="37">Latitudes (degrees north): 50.00,60.00, Longitudes (degrees east): -2.50,-2.50</text>
<text class="b" x="85.5" y="52.8" letter-spacing="-0.025">Simulation start time: 2024-06-16 00:00:00, Valid time: 2024-06-16 15:00:00</text>
<rect x="1214.0" y="61.10" width="33.6" height="366.70" fill="#f4e61e"/>
<rect x="1214.0" y="73.32" width="33.6" height="354.48" fill="#dfe318"/>
<rect x="1214.0" y="85.55" width="33.6" height="342.25" fill="#c8e020"/>
<rect x="1214.0" y="97.77" width="33.6" height="330.03" fill="#b2dd2d"/>
<rect x="1214.0" y="109.99" width="33.6" height="317.81" fill="#9bd93c"/>
<rect x="1214.0" y="122.22" width="33.6" height="305.58" fill="#86d549"/>
<rect x="1214.0" y="134.44" width="33.6" height="293.36" fill="#70cf57"/>
<rect x="1214.0" y="146.66" width="33.6" height="281.14" fill="#5ec962"/>
<rect x="1214.0" y="158.89" width="33.6" height="268.91" fill="#4cc26c"/>
<rect x="1214.0" y="171.11" width="33.6" height="256.69" fill="#3bbb75"/>
<rect x="1214.0" y="183.33" width="33.6" height="244.47" fill="#2fb47c"/>
<rect x="1214.0" y="195.56" width="33.6" height="232.24" fill="#25ac82"/>
<rect x="1214.0" y="207.78" width="33.6" height="220.02" fill="#20a486"/>
<rect x="1214.0" y="220.00" width="33.6" height="207.80" fill="#1e9c89"/>
<rect x="1214.0" y="232.23" width="33.6" height="195.57" fill="#1f948c"/>
<rect x="1214.0" y="244.45" width="33.6" height="183.35" fill="#228c8d"/>
<rect x="1214.0" y="256.67" width="33.6" height="171.13" fill="#25848e"/>
<rect x="1214.0" y="268.90" width="33.6" height="158.90" fill="#287c8e"/>
<rect x="1214.0" y="281.12" width="33.6" height="146.68" fill="#2b748e"/>
<rect x="1214.0" y="293.34" width="33.6" height="134.46" fill="#2f6c8e"/>
<rect x="1214.0" y="305.57" width="33.6" height="122.23" fill="#32648e"/>
<rect x="1214.0" y="317.79" width="33.6" height="110.01" fill="#375b8d"/>
<rect x="1214.0" y="330.01" width="33.6" height="97.79" fill="#3b528b"/>
<rect x="1214.0" y="342.24" width="33.6" height="85.56" fill="#3f4889"/>
<rect x="1214.0" y="354.46" width="33.6" height="73.34" fill="#433e85"/>
<rect x="1214.0" y="366.68" width="33.6" height="61.12" fill="#463480"/>
<rect x="1214.0" y="378.91" width="33.6" height="48.89" fill="#482979"/>
<rect x="1214.0" y="391.13" width="33.6" height="36.67" fill="#481f70"/>
<rect x="1214.0" y="403.35" width="33.6" height="24.45" fill="#471365"/>
<rect x="1214.0" y="415.58" width="33.6" height="12.22" fill="#46075a"/>
<path d="M1214.0 427.8L1230.8 445.9L1247.6 427.8z" fill="#440154"/>
<path d="M1214.0 61.1H1247.6V427.8L1230.8 445.9L1214.0 427.8z" fill="none" stroke="#000" stroke-width="1.11" stroke-linejoin="round"/>
<text x="1257.3" y="420.9">−40</text>
<text x="1257.3" y="372.0">−30</text>
<text x="1257.3" y="323.1">−20</text>
<text x="1257.3" y="274.2">−10</text>
<text x="1257.3" y="225.3">0</text>
<text x="1257.3" y="176.4">10</text>
<text x="1257.3" y="127.5">20</text>
<text x="1257.3" y="78.6">30</text>
<path d="M1247.6 415.5h5.6M1247.6 366.5h5.6M1247.6 317.5h5.6M1247.6 268.5h5.6M1247.6 220.5h5.6M1247.6 171.5h5.6M1247.6 122.5h5.6M1247.6 73.5h5.6" stroke="#000" stroke-width="1.11" fill="none"/>
<text transform="translate(1305.1 347.4) rotate(-90)"><tspan letter-spacing="0.13">Dewpoint Temperature</tspan><tspan font-size="9.7px" dx="5.3" dy="-7.5">∘</tspan><tspan dx="2.2" dy="7.5">C</tspan></text>
<path d="M1216.6 51.8l20.3 0l-1.1 2.3l11.2 -3.4l-11.2 -3.4l1.1 2.3l-20.3 0z" fill="#000"/>
<text x="1258.3" y="55.8">50 m/s</text>
</svg></body></html>
